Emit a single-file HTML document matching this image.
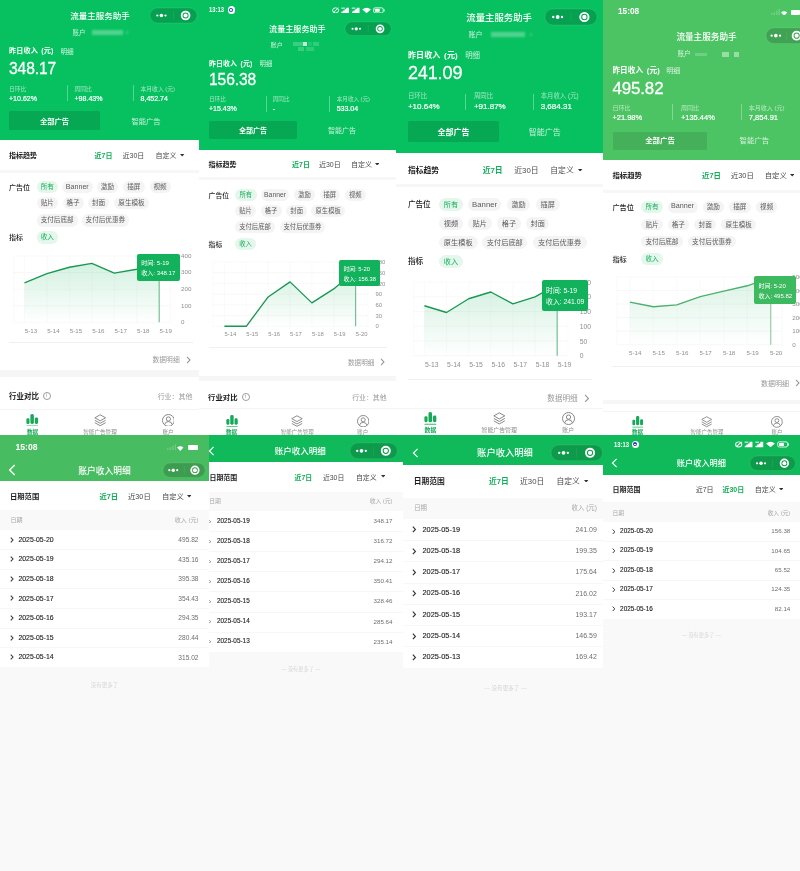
<!DOCTYPE html>
<html lang="zh-CN"><head><meta charset="utf-8"><title>流量主服务助手</title>
<style>
html,body{margin:0;padding:0}
body{width:800px;height:871px;position:relative;overflow:hidden;background:#f9f9f9;font-family:"Liberation Sans","Noto Sans CJK SC",sans-serif;-webkit-font-smoothing:antialiased}
.p{position:absolute;overflow:hidden;will-change:transform}
.p div,.p span,.p svg{position:absolute;white-space:nowrap;display:block}
</style></head><body>
<div class="p" style="left:0;top:0;width:800px;height:436px;clip-path:inset(0 601.00px 0 0.00px)">
<div style="left:0.00px;top:0.00px;width:199.00px;height:436.00px;background:#fff;"></div>
<div style="left:0.00px;top:0.00px;width:199.00px;height:140.00px;background:#07C160;"></div>
<span style="left:100.00px;transform:translateX(-50%);top:11.38px;font-size:8.5px;line-height:11.9px;color:#fff;font-weight:500;">流量主服务助手</span>
<svg style="left:148.50px;top:7.00px" width="49.00" height="17.00" viewBox="-1 -1 49.00 17.00"><rect x="0" y="0" width="47.00" height="15.00" rx="7.50" fill="rgba(0,0,0,.165)" stroke="rgba(255,255,255,.16)" stroke-width=".6"/><circle cx="7.32" cy="7.50" r="1.12" fill="#fff"/><circle cx="11.42" cy="7.50" r="1.78" fill="#fff"/><circle cx="15.52" cy="7.50" r="1.12" fill="#fff"/><rect x="23.25" y="3.30" width=".5" height="8.40" fill="rgba(255,255,255,.14)"/><circle cx="35.58" cy="7.50" r="3.90" fill="none" stroke="#fff" stroke-width="1.80"/><circle cx="35.58" cy="7.50" r="2.05" fill="#fff"/></svg>
<span style="left:72.50px;top:28.72px;font-size:6.4px;line-height:8.96px;color:rgba(255,255,255,.78);font-weight:400;">账户</span>
<div style="left:91.50px;top:30.30px;width:31.50px;height:4.60px;background:rgba(255,255,255,0.3);filter:blur(1.1px)"></div>
<div style="left:125.80px;top:31.30px;width:2.00px;height:2.80px;background:rgba(255,255,255,0.2);filter:blur(0.8px)"></div>
<span style="left:9.00px;top:46.81px;font-size:7.1px;line-height:9.94px;color:#fff;font-weight:700;word-spacing:1.4px;letter-spacing:.12px">昨日收入 (元)</span>
<span style="left:60.50px;top:47.11px;font-size:6.603px;line-height:9.24px;color:rgba(255,255,255,.8);font-weight:400;">明细</span>
<span style="left:9.00px;top:57.88px;font-size:15.6px;line-height:21.84px;color:#fff;font-weight:400;-webkit-text-stroke:.28px #fff;letter-spacing:-.1px">348.17</span>
<span style="left:9.00px;top:84.58px;font-size:5.8px;line-height:8.12px;color:rgba(255,255,255,.62);font-weight:400;">日环比</span>
<span style="left:9.00px;top:93.66px;font-size:7.05px;line-height:9.87px;color:#fff;font-weight:400;-webkit-text-stroke:.2px #fff">+10.62%</span>
<span style="left:74.50px;top:84.58px;font-size:5.8px;line-height:8.12px;color:rgba(255,255,255,.62);font-weight:400;">周同比</span>
<span style="left:74.50px;top:93.66px;font-size:7.05px;line-height:9.87px;color:#fff;font-weight:400;-webkit-text-stroke:.2px #fff">+98.43%</span>
<span style="left:140.50px;top:84.58px;font-size:5.8px;line-height:8.12px;color:rgba(255,255,255,.62);font-weight:400;">本月收入 (元)</span>
<span style="left:140.50px;top:93.66px;font-size:7.05px;line-height:9.87px;color:#fff;font-weight:400;-webkit-text-stroke:.2px #fff">8,452.74</span>
<div style="left:66.75px;top:85.00px;width:0.60px;height:15.50px;background:rgba(255,255,255,.32);"></div>
<div style="left:132.75px;top:85.00px;width:0.60px;height:15.50px;background:rgba(255,255,255,.32);"></div>
<div style="left:9.00px;top:111.00px;width:91.00px;height:19.00px;background:rgba(0,0,0,.13);border-radius:1.5px"></div>
<span style="left:54.50px;transform:translateX(-50%);top:116.69px;font-size:7.3px;line-height:10.22px;color:#fff;font-weight:700;">全部广告</span>
<span style="left:146.00px;transform:translateX(-50%);top:116.69px;font-size:7.3px;line-height:10.22px;color:rgba(255,255,255,.78);font-weight:400;">智能广告</span>
<span style="left:9.00px;top:151.37px;font-size:7px;line-height:9.8px;color:#1c1c1c;font-weight:700;">指标趋势</span>
<span style="left:94.50px;top:151.37px;font-size:7px;line-height:9.8px;color:#10ae57;font-weight:700;">近7日</span>
<span style="left:122.50px;top:151.37px;font-size:7px;line-height:9.8px;color:#4a4a4a;font-weight:400;">近30日</span>
<span style="left:155.50px;top:151.37px;font-size:7px;line-height:9.8px;color:#4a4a4a;font-weight:400;">自定义</span>
<svg style="left:180.30px;top:154.00px" width="4.40" height="2.60" viewBox="0 0 4.4 2.6"><polygon points="0,0 4.4,0 2.2,2.6" fill="#333"/></svg>
<div style="left:0.00px;top:169.60px;width:199.00px;height:3.40px;background:#f7f7f7;"></div>
<span style="left:9.00px;top:182.62px;font-size:7px;line-height:9.8px;color:#1c1c1c;font-weight:500;">广告位</span>
<span style="left:36.75px;top:180.55px;width:21.25px;height:12.40px;line-height:12.40px;border-radius:6.20px;background:#e5f7ec;color:#10ae57;font-size:6.6px;text-align:center">所有</span>
<span style="left:62.00px;top:180.55px;width:30.50px;height:12.40px;line-height:12.40px;border-radius:6.20px;background:#f4f4f4;color:#5a5a5a;font-size:7.13px;text-align:center">Banner</span>
<span style="left:97.00px;top:180.55px;width:21.00px;height:12.40px;line-height:12.40px;border-radius:6.20px;background:#f4f4f4;color:#5a5a5a;font-size:6.6px;text-align:center">激励</span>
<span style="left:123.00px;top:180.55px;width:21.50px;height:12.40px;line-height:12.40px;border-radius:6.20px;background:#f4f4f4;color:#5a5a5a;font-size:6.6px;text-align:center">插屏</span>
<span style="left:149.50px;top:180.55px;width:21.25px;height:12.40px;line-height:12.40px;border-radius:6.20px;background:#f4f4f4;color:#5a5a5a;font-size:6.6px;text-align:center">视频</span>
<span style="left:36.75px;top:196.80px;width:21.25px;height:12.40px;line-height:12.40px;border-radius:6.20px;background:#f4f4f4;color:#5a5a5a;font-size:6.6px;text-align:center">贴片</span>
<span style="left:62.50px;top:196.80px;width:21.25px;height:12.40px;line-height:12.40px;border-radius:6.20px;background:#f4f4f4;color:#5a5a5a;font-size:6.6px;text-align:center">格子</span>
<span style="left:88.00px;top:196.80px;width:21.00px;height:12.40px;line-height:12.40px;border-radius:6.20px;background:#f4f4f4;color:#5a5a5a;font-size:6.6px;text-align:center">封面</span>
<span style="left:114.00px;top:196.80px;width:35.00px;height:12.40px;line-height:12.40px;border-radius:6.20px;background:#f4f4f4;color:#5a5a5a;font-size:6.6px;text-align:center">原生模板</span>
<span style="left:36.75px;top:214.30px;width:40.75px;height:12.40px;line-height:12.40px;border-radius:6.20px;background:#f4f4f4;color:#5a5a5a;font-size:6.6px;text-align:center">支付后底部</span>
<span style="left:81.75px;top:214.30px;width:47.25px;height:12.40px;line-height:12.40px;border-radius:6.20px;background:#f4f4f4;color:#5a5a5a;font-size:6.6px;text-align:center">支付后优惠券</span>
<span style="left:9.00px;top:233.37px;font-size:7px;line-height:9.8px;color:#1c1c1c;font-weight:500;">指标</span>
<span style="left:36.75px;top:231.30px;width:21.25px;height:12.40px;line-height:12.40px;border-radius:6.20px;background:#e5f7ec;color:#10ae57;font-size:6.6px;text-align:center">收入</span>
<svg style="left:0.00px;top:248.25px" width="199.00" height="82.25" viewBox="0.00 248.25 199.00 82.25"><defs><linearGradient id="gp1" x1="0" y1="0" x2="0" y2="1"><stop offset="0" stop-color="#25b866" stop-opacity="0.2"/><stop offset="1" stop-color="#25b866" stop-opacity="0"/></linearGradient></defs><line x1="13.75" y1="322.50" x2="170.60" y2="322.50" stroke="#f1f1f1" stroke-width=".5"/><line x1="13.75" y1="305.94" x2="170.60" y2="305.94" stroke="#f1f1f1" stroke-width=".5"/><line x1="13.75" y1="289.38" x2="170.60" y2="289.38" stroke="#f1f1f1" stroke-width=".5"/><line x1="13.75" y1="272.81" x2="170.60" y2="272.81" stroke="#f1f1f1" stroke-width=".5"/><line x1="13.75" y1="256.25" x2="170.60" y2="256.25" stroke="#f1f1f1" stroke-width=".5"/><line x1="13.75" y1="256.25" x2="13.75" y2="322.50" stroke="#f4f4f4" stroke-width=".5"/><line x1="24.50" y1="256.25" x2="24.50" y2="322.50" stroke="#f4f4f4" stroke-width=".5"/><line x1="46.95" y1="256.25" x2="46.95" y2="322.50" stroke="#f4f4f4" stroke-width=".5"/><line x1="69.40" y1="256.25" x2="69.40" y2="322.50" stroke="#f4f4f4" stroke-width=".5"/><line x1="91.85" y1="256.25" x2="91.85" y2="322.50" stroke="#f4f4f4" stroke-width=".5"/><line x1="114.30" y1="256.25" x2="114.30" y2="322.50" stroke="#f4f4f4" stroke-width=".5"/><line x1="136.75" y1="256.25" x2="136.75" y2="322.50" stroke="#f4f4f4" stroke-width=".5"/><line x1="159.20" y1="256.25" x2="159.20" y2="322.50" stroke="#f4f4f4" stroke-width=".5"/><line x1="170.60" y1="256.25" x2="170.60" y2="322.50" stroke="#f4f4f4" stroke-width=".5"/><polygon points="24.50,322.50 24.50,283.08 46.95,273.81 69.40,267.51 91.85,263.70 114.30,273.31 136.75,269.50 159.20,264.83 159.20,322.50" fill="url(#gp1)"/><polyline points="24.50,283.08 46.95,273.81 69.40,267.51 91.85,263.70 114.30,273.31 136.75,269.50 159.20,264.83" fill="none" stroke="#189852" stroke-width="1.35" stroke-linejoin="round"/><line x1="159.20" y1="264.83" x2="159.20" y2="322.50" stroke="#189852" stroke-opacity=".6" stroke-width="1.15"/></svg>
<span style="left:181.00px;top:318.16px;font-size:6.2px;line-height:8.68px;color:#8f8f8f;font-weight:400;">0</span>
<span style="left:181.00px;top:301.60px;font-size:6.2px;line-height:8.68px;color:#8f8f8f;font-weight:400;">100</span>
<span style="left:181.00px;top:285.04px;font-size:6.2px;line-height:8.68px;color:#8f8f8f;font-weight:400;">200</span>
<span style="left:181.00px;top:268.47px;font-size:6.2px;line-height:8.68px;color:#8f8f8f;font-weight:400;">300</span>
<span style="left:181.00px;top:251.91px;font-size:6.2px;line-height:8.68px;color:#8f8f8f;font-weight:400;">400</span>
<span style="left:31.00px;transform:translateX(-50%);top:326.96px;font-size:6.2px;line-height:8.68px;color:#8f8f8f;font-weight:400;">5-13</span>
<span style="left:53.45px;transform:translateX(-50%);top:326.96px;font-size:6.2px;line-height:8.68px;color:#8f8f8f;font-weight:400;">5-14</span>
<span style="left:75.90px;transform:translateX(-50%);top:326.96px;font-size:6.2px;line-height:8.68px;color:#8f8f8f;font-weight:400;">5-15</span>
<span style="left:98.35px;transform:translateX(-50%);top:326.96px;font-size:6.2px;line-height:8.68px;color:#8f8f8f;font-weight:400;">5-16</span>
<span style="left:120.80px;transform:translateX(-50%);top:326.96px;font-size:6.2px;line-height:8.68px;color:#8f8f8f;font-weight:400;">5-17</span>
<span style="left:143.25px;transform:translateX(-50%);top:326.96px;font-size:6.2px;line-height:8.68px;color:#8f8f8f;font-weight:400;">5-18</span>
<span style="left:165.70px;transform:translateX(-50%);top:326.96px;font-size:6.2px;line-height:8.68px;color:#8f8f8f;font-weight:400;">5-19</span>
<div style="left:137.00px;top:253.75px;width:42.50px;height:27.25px;background:#12b15b;border-radius:2px"></div>
<span style="left:141.20px;top:259.28px;font-size:6.1px;line-height:8.54px;color:#fff;font-weight:400;">时间: 5-19</span>
<span style="left:141.20px;top:268.95px;font-size:6.1px;line-height:8.54px;color:#fff;font-weight:400;">收入: 348.17</span>
<div style="left:8.75px;top:342.20px;width:183.75px;height:0.60px;background:#f0f0f0;"></div>
<span style="left:152.50px;top:355.49px;font-size:6.8px;line-height:9.52px;color:#9a9a9a;font-weight:400;">数据明细</span>
<svg style="left:185.50px;top:355.50px" width="5.00" height="8.00" viewBox="0 0 5 8"><polyline points="1,0.8 4,4 1,7.2" fill="none" stroke="#9a9a9a" stroke-width="1.1"/></svg>
<div style="left:0.00px;top:370.00px;width:199.00px;height:6.50px;background:#f6f6f6;"></div>
<span style="left:9.00px;top:391.77px;font-size:7.5px;line-height:10.5px;color:#1c1c1c;font-weight:700;">行业对比</span>
<div style="left:42.77px;top:392.22px;width:7.95px;height:7.95px;border-radius:50%;border:.6px solid #9a9a9a;box-sizing:border-box"></div>
<span style="left:46.75px;transform:translateX(-50%);top:392.94px;font-size:4.65px;line-height:6.51px;color:#8a8a8a;font-weight:400;">i</span>
<span style="left:192.50px;transform:translateX(-100%);top:392.08px;font-size:6.9750000000000005px;line-height:9.77px;color:#9a9a9a;font-weight:400;">行业：其他</span>
<div style="left:0.00px;top:410.00px;width:199.00px;height:26.00px;background:#fff;box-shadow:0 -0.5px 0 rgba(0,0,0,.09)"></div>
<svg style="left:26.30px;top:413.60px" width="12.40" height="12.80" viewBox="0 0 12.4 12.8" fill="#16a957"><rect x="0.4" y="4.2" width="3.1" height="5.8" rx="1.3"/><rect x="4.4" y="0.1" width="3.5" height="9.9" rx="1.5"/><rect x="8.8" y="3.4" width="3.3" height="6.6" rx="1.4"/><rect x="0.4" y="11.6" width="11.7" height="1" rx=".4" opacity=".85"/></svg>
<svg style="left:93.80px;top:413.80px" width="12.40" height="12.40" viewBox="0 0 12.4 12.4" fill="none" stroke="#7d7d7d" stroke-width=".9" stroke-linejoin="round"><path d="M6.2 .8 L11.6 3.8 L6.2 6.8 L.8 3.8 Z"/><path d="M.8 6.3 L6.2 9.3 L11.6 6.3"/><path d="M.8 8.7 L6.2 11.7 L11.6 8.7"/></svg>
<svg style="left:161.60px;top:413.60px" width="12.80" height="12.80" viewBox="0 0 12.8 12.8" fill="none" stroke="#7d7d7d" stroke-width=".9"><circle cx="6.4" cy="6.4" r="5.9"/><circle cx="6.4" cy="5" r="2.1"/><path d="M2.6 10.6 Q3.2 7.6 6.4 7.6 Q9.6 7.6 10.2 10.6"/></svg>
<span style="left:32.50px;transform:translateX(-50%);top:428.50px;font-size:5.6px;line-height:7.84px;color:#16a957;font-weight:700;">数据</span>
<span style="left:100.00px;transform:translateX(-50%);top:428.50px;font-size:5.6px;line-height:7.84px;color:#8e8e8e;font-weight:400;">智能广告管理</span>
<span style="left:168.00px;transform:translateX(-50%);top:428.50px;font-size:5.6px;line-height:7.84px;color:#8e8e8e;font-weight:400;">账户</span>
</div>
<div class="p" style="left:0;top:0;width:800px;height:436px;clip-path:inset(0 404.00px 0 199.00px)">
<div style="left:199.00px;top:0.00px;width:197.00px;height:436.00px;background:#fff;"></div>
<div style="left:199.00px;top:0.00px;width:197.00px;height:150.00px;background:#07C160;"></div>
<span style="left:209.40px;top:5.46px;font-size:6.496px;line-height:9.09px;color:#fff;font-weight:700;transform:scaleX(.9);transform-origin:0 50%">13:13</span>
<div style="left:227.51px;top:6.40px;width:7.19px;height:7.19px;border-radius:50%;background:#fff"></div>
<div style="left:229.02px;top:7.91px;width:4.17px;height:4.17px;background:#2b3fae;border-radius:50%"></div>
<div style="left:230.39px;top:9.28px;width:1.44px;height:1.44px;background:#fff;border-radius:50%"></div>
<svg style="left:331.50px;top:6.70px" width="53.00" height="6.70" viewBox="0 0 53 8" preserveAspectRatio="none" fill="#fff"><circle cx="3.6" cy="4" r="3" fill="none" stroke="#fff" stroke-width="1"/><path d="M1 7 L6.4 1" stroke="#fff" stroke-width="1"/><path d="M9.5 7.3 L9.5 5.4 L11 5.4 L11 4.2 L12.6 4.2 L12.6 2.8 L14.2 2.8 L14.2 1 L17 1 L17 7.3 Z"/><rect x="9.3" y=".8" width="3.6" height="1.1"/><path d="M20 7.3 L20 5.4 L21.5 5.4 L21.5 4.2 L23.1 4.2 L23.1 2.8 L24.7 2.8 L24.7 1 L27.5 1 L27.5 7.3 Z"/><rect x="19.8" y=".8" width="3.6" height="1.1"/><path d="M30.3 2.9 Q34.6 -.9 38.9 2.9 L34.6 7.4 Z"/><rect x="41.6" y="1" width="9.6" height="6" rx="1.6" fill="none" stroke="#fff" stroke-width=".9"/><rect x="42.9" y="2.2" width="4.8" height="3.6" rx=".6"/><rect x="51.6" y="2.7" width="1" height="2.6" rx=".4"/></svg>
<span style="left:297.40px;transform:translateX(-50%);top:23.52px;font-size:8.1px;line-height:11.34px;color:#fff;font-weight:500;">流量主服务助手</span>
<svg style="left:344.00px;top:20.80px" width="48.30" height="15.60" viewBox="-1 -1 48.30 15.60"><rect x="0" y="0" width="46.30" height="13.60" rx="6.80" fill="rgba(0,0,0,.165)" stroke="rgba(255,255,255,.16)" stroke-width=".6"/><circle cx="7.53" cy="6.80" r="1.02" fill="#fff"/><circle cx="11.25" cy="6.80" r="1.61" fill="#fff"/><circle cx="14.97" cy="6.80" r="1.02" fill="#fff"/><rect x="22.90" y="2.99" width=".5" height="7.62" fill="rgba(255,255,255,.14)"/><circle cx="35.05" cy="6.80" r="3.54" fill="none" stroke="#fff" stroke-width="1.63"/><circle cx="35.05" cy="6.80" r="1.86" fill="#fff"/></svg>
<span style="left:270.60px;top:40.94px;font-size:6.2px;line-height:8.68px;color:rgba(255,255,255,.78);font-weight:400;">账户</span>
<div style="left:293.00px;top:42.20px;width:9.50px;height:4.30px;background:rgba(255,255,255,0.2);filter:blur(0.4px)"></div>
<div style="left:302.60px;top:42.20px;width:4.80px;height:4.30px;background:rgba(255,255,255,0.72);filter:blur(0.3px)"></div>
<div style="left:308.00px;top:42.20px;width:4.00px;height:4.30px;background:rgba(255,255,255,0.1);filter:blur(0.4px)"></div>
<div style="left:312.50px;top:42.20px;width:6.00px;height:4.30px;background:rgba(255,255,255,0.18);filter:blur(0.4px)"></div>
<div style="left:297.50px;top:47.00px;width:6.50px;height:4.20px;background:rgba(255,255,255,0.2);filter:blur(0.4px)"></div>
<div style="left:306.00px;top:47.00px;width:7.50px;height:4.20px;background:rgba(255,255,255,0.16);filter:blur(0.4px)"></div>
<span style="left:209.00px;top:59.23px;font-size:6.9px;line-height:9.66px;color:#fff;font-weight:700;word-spacing:1.4px;letter-spacing:.12px">昨日收入 (元)</span>
<span style="left:259.60px;top:59.52px;font-size:6.417000000000001px;line-height:8.98px;color:rgba(255,255,255,.8);font-weight:400;">明细</span>
<span style="left:209.00px;top:68.68px;font-size:15.6px;line-height:21.84px;color:#fff;font-weight:400;-webkit-text-stroke:.28px #fff;letter-spacing:-.1px">156.38</span>
<span style="left:209.00px;top:95.90px;font-size:5.6px;line-height:7.84px;color:rgba(255,255,255,.62);font-weight:400;">日环比</span>
<span style="left:209.00px;top:103.70px;font-size:7px;line-height:9.8px;color:#fff;font-weight:400;-webkit-text-stroke:.2px #fff">+15.43%</span>
<span style="left:272.70px;top:95.90px;font-size:5.6px;line-height:7.84px;color:rgba(255,255,255,.62);font-weight:400;">周同比</span>
<span style="left:272.70px;top:103.70px;font-size:7px;line-height:9.8px;color:#fff;font-weight:400;-webkit-text-stroke:.2px #fff">-</span>
<span style="left:336.70px;top:95.90px;font-size:5.6px;line-height:7.84px;color:rgba(255,255,255,.62);font-weight:400;">本月收入 (元)</span>
<span style="left:336.70px;top:103.70px;font-size:7px;line-height:9.8px;color:#fff;font-weight:400;-webkit-text-stroke:.2px #fff">533.04</span>
<div style="left:265.65px;top:96.00px;width:0.60px;height:15.50px;background:rgba(255,255,255,.32);"></div>
<div style="left:329.35px;top:96.00px;width:0.60px;height:15.50px;background:rgba(255,255,255,.32);"></div>
<div style="left:209.00px;top:121.30px;width:87.80px;height:17.70px;background:rgba(0,0,0,.13);border-radius:1.5px"></div>
<span style="left:252.90px;transform:translateX(-50%);top:126.27px;font-size:7px;line-height:9.8px;color:#fff;font-weight:700;">全部广告</span>
<span style="left:342.00px;transform:translateX(-50%);top:126.27px;font-size:7px;line-height:9.8px;color:rgba(255,255,255,.78);font-weight:400;">智能广告</span>
<span style="left:208.60px;top:160.27px;font-size:7px;line-height:9.8px;color:#1c1c1c;font-weight:700;">指标趋势</span>
<span style="left:292.00px;top:160.27px;font-size:7px;line-height:9.8px;color:#10ae57;font-weight:700;">近7日</span>
<span style="left:318.90px;top:160.27px;font-size:7px;line-height:9.8px;color:#4a4a4a;font-weight:400;">近30日</span>
<span style="left:351.00px;top:160.27px;font-size:7px;line-height:9.8px;color:#4a4a4a;font-weight:400;">自定义</span>
<svg style="left:374.80px;top:162.90px" width="4.40" height="2.60" viewBox="0 0 4.4 2.6"><polygon points="0,0 4.4,0 2.2,2.6" fill="#333"/></svg>
<div style="left:199.00px;top:177.00px;width:197.00px;height:2.50px;background:#f7f7f7;"></div>
<span style="left:208.60px;top:190.59px;font-size:6.8px;line-height:9.52px;color:#1c1c1c;font-weight:500;">广告位</span>
<span style="left:235.00px;top:188.60px;width:21.70px;height:12.00px;line-height:12.00px;border-radius:6.00px;background:#e5f7ec;color:#10ae57;font-size:6.3px;text-align:center">所有</span>
<span style="left:260.60px;top:188.60px;width:28.90px;height:12.00px;line-height:12.00px;border-radius:6.00px;background:#f4f4f4;color:#5a5a5a;font-size:6.8px;text-align:center">Banner</span>
<span style="left:294.00px;top:188.60px;width:21.00px;height:12.00px;line-height:12.00px;border-radius:6.00px;background:#f4f4f4;color:#5a5a5a;font-size:6.3px;text-align:center">激励</span>
<span style="left:319.70px;top:188.60px;width:20.30px;height:12.00px;line-height:12.00px;border-radius:6.00px;background:#f4f4f4;color:#5a5a5a;font-size:6.3px;text-align:center">插屏</span>
<span style="left:345.00px;top:188.60px;width:20.60px;height:12.00px;line-height:12.00px;border-radius:6.00px;background:#f4f4f4;color:#5a5a5a;font-size:6.3px;text-align:center">视频</span>
<span style="left:235.00px;top:204.90px;width:21.00px;height:12.00px;line-height:12.00px;border-radius:6.00px;background:#f4f4f4;color:#5a5a5a;font-size:6.3px;text-align:center">贴片</span>
<span style="left:260.60px;top:204.90px;width:21.00px;height:12.00px;line-height:12.00px;border-radius:6.00px;background:#f4f4f4;color:#5a5a5a;font-size:6.3px;text-align:center">格子</span>
<span style="left:286.30px;top:204.90px;width:20.70px;height:12.00px;line-height:12.00px;border-radius:6.00px;background:#f4f4f4;color:#5a5a5a;font-size:6.3px;text-align:center">封面</span>
<span style="left:311.30px;top:204.90px;width:33.70px;height:12.00px;line-height:12.00px;border-radius:6.00px;background:#f4f4f4;color:#5a5a5a;font-size:6.3px;text-align:center">原生模板</span>
<span style="left:235.00px;top:221.10px;width:40.00px;height:12.00px;line-height:12.00px;border-radius:6.00px;background:#f4f4f4;color:#5a5a5a;font-size:6.3px;text-align:center">支付后底部</span>
<span style="left:279.50px;top:221.10px;width:45.90px;height:12.00px;line-height:12.00px;border-radius:6.00px;background:#f4f4f4;color:#5a5a5a;font-size:6.3px;text-align:center">支付后优惠券</span>
<span style="left:208.60px;top:239.99px;font-size:6.8px;line-height:9.52px;color:#1c1c1c;font-weight:500;">指标</span>
<span style="left:235.00px;top:238.00px;width:21.00px;height:12.00px;line-height:12.00px;border-radius:6.00px;background:#e5f7ec;color:#10ae57;font-size:6.3px;text-align:center">收入</span>
<svg style="left:199.00px;top:254.30px" width="197.00" height="80.30" viewBox="199.00 254.30 197.00 80.30"><defs><linearGradient id="gp2" x1="0" y1="0" x2="0" y2="1"><stop offset="0" stop-color="#25b866" stop-opacity="0.2"/><stop offset="1" stop-color="#25b866" stop-opacity="0"/></linearGradient></defs><line x1="212.80" y1="326.60" x2="368.00" y2="326.60" stroke="#f1f1f1" stroke-width=".5"/><line x1="212.80" y1="315.88" x2="368.00" y2="315.88" stroke="#f1f1f1" stroke-width=".5"/><line x1="212.80" y1="305.17" x2="368.00" y2="305.17" stroke="#f1f1f1" stroke-width=".5"/><line x1="212.80" y1="294.45" x2="368.00" y2="294.45" stroke="#f1f1f1" stroke-width=".5"/><line x1="212.80" y1="283.73" x2="368.00" y2="283.73" stroke="#f1f1f1" stroke-width=".5"/><line x1="212.80" y1="273.02" x2="368.00" y2="273.02" stroke="#f1f1f1" stroke-width=".5"/><line x1="212.80" y1="262.30" x2="368.00" y2="262.30" stroke="#f1f1f1" stroke-width=".5"/><line x1="212.80" y1="262.30" x2="212.80" y2="326.60" stroke="#f4f4f4" stroke-width=".5"/><line x1="224.40" y1="262.30" x2="224.40" y2="326.60" stroke="#f4f4f4" stroke-width=".5"/><line x1="246.27" y1="262.30" x2="246.27" y2="326.60" stroke="#f4f4f4" stroke-width=".5"/><line x1="268.14" y1="262.30" x2="268.14" y2="326.60" stroke="#f4f4f4" stroke-width=".5"/><line x1="290.01" y1="262.30" x2="290.01" y2="326.60" stroke="#f4f4f4" stroke-width=".5"/><line x1="311.88" y1="262.30" x2="311.88" y2="326.60" stroke="#f4f4f4" stroke-width=".5"/><line x1="333.75" y1="262.30" x2="333.75" y2="326.60" stroke="#f4f4f4" stroke-width=".5"/><line x1="355.62" y1="262.30" x2="355.62" y2="326.60" stroke="#f4f4f4" stroke-width=".5"/><line x1="368.00" y1="262.30" x2="368.00" y2="326.60" stroke="#f4f4f4" stroke-width=".5"/><polygon points="224.40,326.60 224.40,326.60 246.27,326.60 268.14,297.26 290.01,282.18 311.88,303.19 333.75,289.22 355.62,270.74 355.62,326.60" fill="url(#gp2)"/><polyline points="224.40,326.60 246.27,326.60 268.14,297.26 290.01,282.18 311.88,303.19 333.75,289.22 355.62,270.74" fill="none" stroke="#189852" stroke-width="1.35" stroke-linejoin="round"/><line x1="355.62" y1="270.74" x2="355.62" y2="326.60" stroke="#189852" stroke-opacity=".6" stroke-width="1.15"/></svg>
<span style="left:375.50px;top:322.47px;font-size:5.9px;line-height:8.26px;color:#8f8f8f;font-weight:400;">0</span>
<span style="left:375.50px;top:311.75px;font-size:5.9px;line-height:8.26px;color:#8f8f8f;font-weight:400;">30</span>
<span style="left:375.50px;top:301.04px;font-size:5.9px;line-height:8.26px;color:#8f8f8f;font-weight:400;">60</span>
<span style="left:375.50px;top:290.32px;font-size:5.9px;line-height:8.26px;color:#8f8f8f;font-weight:400;">90</span>
<span style="left:375.50px;top:279.60px;font-size:5.9px;line-height:8.26px;color:#8f8f8f;font-weight:400;">120</span>
<span style="left:375.50px;top:268.89px;font-size:5.9px;line-height:8.26px;color:#8f8f8f;font-weight:400;">150</span>
<span style="left:375.50px;top:258.17px;font-size:5.9px;line-height:8.26px;color:#8f8f8f;font-weight:400;">180</span>
<span style="left:230.40px;transform:translateX(-50%);top:329.87px;font-size:5.9px;line-height:8.26px;color:#8f8f8f;font-weight:400;">5-14</span>
<span style="left:252.27px;transform:translateX(-50%);top:329.87px;font-size:5.9px;line-height:8.26px;color:#8f8f8f;font-weight:400;">5-15</span>
<span style="left:274.14px;transform:translateX(-50%);top:329.87px;font-size:5.9px;line-height:8.26px;color:#8f8f8f;font-weight:400;">5-16</span>
<span style="left:296.01px;transform:translateX(-50%);top:329.87px;font-size:5.9px;line-height:8.26px;color:#8f8f8f;font-weight:400;">5-17</span>
<span style="left:317.88px;transform:translateX(-50%);top:329.87px;font-size:5.9px;line-height:8.26px;color:#8f8f8f;font-weight:400;">5-18</span>
<span style="left:339.75px;transform:translateX(-50%);top:329.87px;font-size:5.9px;line-height:8.26px;color:#8f8f8f;font-weight:400;">5-19</span>
<span style="left:361.62px;transform:translateX(-50%);top:329.87px;font-size:5.9px;line-height:8.26px;color:#8f8f8f;font-weight:400;">5-20</span>
<div style="left:339.30px;top:259.80px;width:40.90px;height:26.50px;background:#12b15b;border-radius:2px"></div>
<span style="left:343.50px;top:265.26px;font-size:5.8px;line-height:8.12px;color:#fff;font-weight:400;">时间: 5-20</span>
<span style="left:343.50px;top:274.66px;font-size:5.8px;line-height:8.12px;color:#fff;font-weight:400;">收入: 156.38</span>
<div style="left:208.60px;top:346.70px;width:178.00px;height:0.60px;background:#f0f0f0;"></div>
<span style="left:348.00px;top:358.41px;font-size:6.6px;line-height:9.24px;color:#9a9a9a;font-weight:400;">数据明细</span>
<svg style="left:379.50px;top:358.30px" width="5.00" height="8.00" viewBox="0 0 5 8"><polyline points="1,0.8 4,4 1,7.2" fill="none" stroke="#9a9a9a" stroke-width="1.1"/></svg>
<div style="left:199.00px;top:376.00px;width:197.00px;height:5.00px;background:#f6f6f6;"></div>
<span style="left:208.00px;top:392.63px;font-size:7.4px;line-height:10.36px;color:#1c1c1c;font-weight:700;">行业对比</span>
<div style="left:241.78px;top:393.08px;width:7.84px;height:7.84px;border-radius:50%;border:.6px solid #9a9a9a;box-sizing:border-box"></div>
<span style="left:245.70px;transform:translateX(-50%);top:393.79px;font-size:4.588px;line-height:6.42px;color:#8a8a8a;font-weight:400;">i</span>
<span style="left:386.60px;transform:translateX(-100%);top:392.94px;font-size:6.882000000000001px;line-height:9.63px;color:#9a9a9a;font-weight:400;">行业：其他</span>
<div style="left:199.00px;top:409.00px;width:197.00px;height:27.00px;background:#fff;box-shadow:0 -0.5px 0 rgba(0,0,0,.09)"></div>
<svg style="left:225.59px;top:415.09px" width="12.03" height="12.42" viewBox="0 0 12.4 12.8" fill="#16a957"><rect x="0.4" y="4.2" width="3.1" height="5.8" rx="1.3"/><rect x="4.4" y="0.1" width="3.5" height="9.9" rx="1.5"/><rect x="8.8" y="3.4" width="3.3" height="6.6" rx="1.4"/><rect x="0.4" y="11.6" width="11.7" height="1" rx=".4" opacity=".85"/></svg>
<svg style="left:291.29px;top:415.29px" width="12.03" height="12.03" viewBox="0 0 12.4 12.4" fill="none" stroke="#7d7d7d" stroke-width=".9" stroke-linejoin="round"><path d="M6.2 .8 L11.6 3.8 L6.2 6.8 L.8 3.8 Z"/><path d="M.8 6.3 L6.2 9.3 L11.6 6.3"/><path d="M.8 8.7 L6.2 11.7 L11.6 8.7"/></svg>
<svg style="left:356.59px;top:415.09px" width="12.42" height="12.42" viewBox="0 0 12.8 12.8" fill="none" stroke="#7d7d7d" stroke-width=".9"><circle cx="6.4" cy="6.4" r="5.9"/><circle cx="6.4" cy="5" r="2.1"/><path d="M2.6 10.6 Q3.2 7.6 6.4 7.6 Q9.6 7.6 10.2 10.6"/></svg>
<span style="left:231.60px;transform:translateX(-50%);top:428.95px;font-size:5.5px;line-height:7.7px;color:#16a957;font-weight:700;">数据</span>
<span style="left:297.30px;transform:translateX(-50%);top:428.95px;font-size:5.5px;line-height:7.7px;color:#8e8e8e;font-weight:400;">智能广告管理</span>
<span style="left:362.80px;transform:translateX(-50%);top:428.95px;font-size:5.5px;line-height:7.7px;color:#8e8e8e;font-weight:400;">账户</span>
</div>
<div class="p" style="left:0;top:0;width:800px;height:436px;clip-path:inset(0 197.00px 0 396.00px)">
<div style="left:396.00px;top:0.00px;width:207.00px;height:436.00px;background:#fff;"></div>
<div style="left:396.00px;top:0.00px;width:207.00px;height:152.50px;background:#07C160;"></div>
<span style="left:499.20px;transform:translateX(-50%);top:11.45px;font-size:9.4px;line-height:13.16px;color:#fff;font-weight:500;">流量主服务助手</span>
<svg style="left:543.80px;top:7.80px" width="54.00" height="18.00" viewBox="-1 -1 54.00 18.00"><rect x="0" y="0" width="52.00" height="16.00" rx="8.00" fill="rgba(0,0,0,.165)" stroke="rgba(255,255,255,.16)" stroke-width=".6"/><circle cx="8.26" cy="8.00" r="1.19" fill="#fff"/><circle cx="12.64" cy="8.00" r="1.90" fill="#fff"/><circle cx="17.01" cy="8.00" r="1.19" fill="#fff"/><rect x="25.75" y="3.52" width=".5" height="8.96" fill="rgba(255,255,255,.14)"/><circle cx="39.36" cy="8.00" r="4.16" fill="none" stroke="#fff" stroke-width="1.92"/><circle cx="39.36" cy="8.00" r="2.19" fill="#fff"/></svg>
<span style="left:468.40px;top:30.27px;font-size:7px;line-height:9.8px;color:rgba(255,255,255,.78);font-weight:400;">账户</span>
<div style="left:490.80px;top:32.00px;width:34.00px;height:4.80px;background:rgba(255,255,255,0.3);filter:blur(1.2px)"></div>
<div style="left:529.50px;top:33.00px;width:2.40px;height:3.00px;background:rgba(255,255,255,0.2);filter:blur(0.8px)"></div>
<span style="left:407.90px;top:50.28px;font-size:8px;line-height:11.2px;color:#fff;font-weight:700;word-spacing:1.4px;letter-spacing:.12px">昨日收入 (元)</span>
<span style="left:465.20px;top:50.61px;font-size:7.44px;line-height:10.42px;color:rgba(255,255,255,.8);font-weight:400;">明细</span>
<span style="left:407.90px;top:61.00px;font-size:18px;line-height:25.2px;color:#fff;font-weight:400;-webkit-text-stroke:.28px #fff;letter-spacing:-.1px">241.09</span>
<span style="left:407.90px;top:91.92px;font-size:6.4px;line-height:8.96px;color:rgba(255,255,255,.62);font-weight:400;">日环比</span>
<span style="left:407.90px;top:101.10px;font-size:8px;line-height:11.2px;color:#fff;font-weight:400;-webkit-text-stroke:.2px #fff">+10.64%</span>
<span style="left:473.90px;top:91.92px;font-size:6.4px;line-height:8.96px;color:rgba(255,255,255,.62);font-weight:400;">周同比</span>
<span style="left:473.90px;top:101.10px;font-size:8px;line-height:11.2px;color:#fff;font-weight:400;-webkit-text-stroke:.2px #fff">+91.87%</span>
<span style="left:540.70px;top:91.92px;font-size:6.4px;line-height:8.96px;color:rgba(255,255,255,.62);font-weight:400;">本月收入 (元)</span>
<span style="left:540.70px;top:101.10px;font-size:8px;line-height:11.2px;color:#fff;font-weight:400;-webkit-text-stroke:.2px #fff">3,684.31</span>
<div style="left:465.35px;top:93.50px;width:0.60px;height:16.50px;background:rgba(255,255,255,.32);"></div>
<div style="left:532.75px;top:93.50px;width:0.60px;height:16.50px;background:rgba(255,255,255,.32);"></div>
<div style="left:407.90px;top:121.00px;width:91.30px;height:20.60px;background:rgba(0,0,0,.13);border-radius:1.5px"></div>
<span style="left:453.55px;transform:translateX(-50%);top:126.78px;font-size:8px;line-height:11.2px;color:#fff;font-weight:700;">全部广告</span>
<span style="left:544.80px;transform:translateX(-50%);top:126.78px;font-size:8px;line-height:11.2px;color:rgba(255,255,255,.78);font-weight:400;">智能广告</span>
<span style="left:407.90px;top:165.60px;font-size:7.8px;line-height:10.92px;color:#1c1c1c;font-weight:700;">指标趋势</span>
<span style="left:482.70px;top:165.60px;font-size:7.8px;line-height:10.92px;color:#10ae57;font-weight:700;">近7日</span>
<span style="left:514.30px;top:165.60px;font-size:7.8px;line-height:10.92px;color:#4a4a4a;font-weight:400;">近30日</span>
<span style="left:550.30px;top:165.60px;font-size:7.8px;line-height:10.92px;color:#4a4a4a;font-weight:400;">自定义</span>
<svg style="left:578.40px;top:168.70px" width="4.40" height="2.60" viewBox="0 0 4.4 2.6"><polygon points="0,0 4.4,0 2.2,2.6" fill="#333"/></svg>
<div style="left:396.00px;top:184.30px;width:207.00px;height:3.00px;background:#f7f7f7;"></div>
<span style="left:407.90px;top:199.62px;font-size:7.6px;line-height:10.64px;color:#1c1c1c;font-weight:500;">广告位</span>
<span style="left:439.00px;top:197.60px;width:23.90px;height:13.00px;line-height:13.00px;border-radius:6.50px;background:#e5f7ec;color:#10ae57;font-size:7.2px;text-align:center">所有</span>
<span style="left:467.80px;top:197.60px;width:33.60px;height:13.00px;line-height:13.00px;border-radius:6.50px;background:#f4f4f4;color:#5a5a5a;font-size:7.78px;text-align:center">Banner</span>
<span style="left:506.90px;top:197.60px;width:23.40px;height:13.00px;line-height:13.00px;border-radius:6.50px;background:#f4f4f4;color:#5a5a5a;font-size:7.2px;text-align:center">激励</span>
<span style="left:535.80px;top:197.60px;width:23.90px;height:13.00px;line-height:13.00px;border-radius:6.50px;background:#f4f4f4;color:#5a5a5a;font-size:7.2px;text-align:center">插屏</span>
<span style="left:439.00px;top:216.90px;width:23.90px;height:13.00px;line-height:13.00px;border-radius:6.50px;background:#f4f4f4;color:#5a5a5a;font-size:7.2px;text-align:center">视频</span>
<span style="left:467.80px;top:216.90px;width:24.00px;height:13.00px;line-height:13.00px;border-radius:6.50px;background:#f4f4f4;color:#5a5a5a;font-size:7.2px;text-align:center">贴片</span>
<span style="left:497.30px;top:216.90px;width:23.30px;height:13.00px;line-height:13.00px;border-radius:6.50px;background:#f4f4f4;color:#5a5a5a;font-size:7.2px;text-align:center">格子</span>
<span style="left:526.10px;top:216.90px;width:23.40px;height:13.00px;line-height:13.00px;border-radius:6.50px;background:#f4f4f4;color:#5a5a5a;font-size:7.2px;text-align:center">封面</span>
<span style="left:439.00px;top:235.60px;width:38.50px;height:13.00px;line-height:13.00px;border-radius:6.50px;background:#f4f4f4;color:#5a5a5a;font-size:7.2px;text-align:center">原生模板</span>
<span style="left:482.10px;top:235.60px;width:45.40px;height:13.00px;line-height:13.00px;border-radius:6.50px;background:#f4f4f4;color:#5a5a5a;font-size:7.2px;text-align:center">支付后底部</span>
<span style="left:532.50px;top:235.60px;width:54.10px;height:13.00px;line-height:13.00px;border-radius:6.50px;background:#f4f4f4;color:#5a5a5a;font-size:7.2px;text-align:center">支付后优惠券</span>
<span style="left:407.90px;top:256.52px;font-size:7.6px;line-height:10.64px;color:#1c1c1c;font-weight:500;">指标</span>
<span style="left:439.00px;top:254.50px;width:23.90px;height:13.00px;line-height:13.00px;border-radius:6.50px;background:#e5f7ec;color:#10ae57;font-size:7.2px;text-align:center">收入</span>
<svg style="left:396.00px;top:274.40px" width="207.00" height="89.70" viewBox="396.00 274.40 207.00 89.70"><defs><linearGradient id="gp3" x1="0" y1="0" x2="0" y2="1"><stop offset="0" stop-color="#25b866" stop-opacity="0.2"/><stop offset="1" stop-color="#25b866" stop-opacity="0"/></linearGradient></defs><line x1="413.40" y1="356.10" x2="568.00" y2="356.10" stroke="#f1f1f1" stroke-width=".5"/><line x1="413.40" y1="341.36" x2="568.00" y2="341.36" stroke="#f1f1f1" stroke-width=".5"/><line x1="413.40" y1="326.62" x2="568.00" y2="326.62" stroke="#f1f1f1" stroke-width=".5"/><line x1="413.40" y1="311.88" x2="568.00" y2="311.88" stroke="#f1f1f1" stroke-width=".5"/><line x1="413.40" y1="297.14" x2="568.00" y2="297.14" stroke="#f1f1f1" stroke-width=".5"/><line x1="413.40" y1="282.40" x2="568.00" y2="282.40" stroke="#f1f1f1" stroke-width=".5"/><line x1="413.40" y1="282.40" x2="413.40" y2="356.10" stroke="#f4f4f4" stroke-width=".5"/><line x1="424.40" y1="282.40" x2="424.40" y2="356.10" stroke="#f4f4f4" stroke-width=".5"/><line x1="446.53" y1="282.40" x2="446.53" y2="356.10" stroke="#f4f4f4" stroke-width=".5"/><line x1="468.66" y1="282.40" x2="468.66" y2="356.10" stroke="#f4f4f4" stroke-width=".5"/><line x1="490.79" y1="282.40" x2="490.79" y2="356.10" stroke="#f4f4f4" stroke-width=".5"/><line x1="512.92" y1="282.40" x2="512.92" y2="356.10" stroke="#f4f4f4" stroke-width=".5"/><line x1="535.05" y1="282.40" x2="535.05" y2="356.10" stroke="#f4f4f4" stroke-width=".5"/><line x1="557.18" y1="282.40" x2="557.18" y2="356.10" stroke="#f4f4f4" stroke-width=".5"/><line x1="568.00" y1="282.40" x2="568.00" y2="356.10" stroke="#f4f4f4" stroke-width=".5"/><polygon points="424.40,356.10 424.40,306.15 446.53,312.89 468.66,299.15 490.79,292.42 512.92,304.32 535.05,297.33 557.18,285.03 557.18,356.10" fill="url(#gp3)"/><polyline points="424.40,306.15 446.53,312.89 468.66,299.15 490.79,292.42 512.92,304.32 535.05,297.33 557.18,285.03" fill="none" stroke="#189852" stroke-width="1.35" stroke-linejoin="round"/><line x1="557.18" y1="285.03" x2="557.18" y2="356.10" stroke="#189852" stroke-opacity=".6" stroke-width="1.15"/></svg>
<span style="left:579.80px;top:351.34px;font-size:6.8px;line-height:9.52px;color:#8f8f8f;font-weight:400;">0</span>
<span style="left:579.80px;top:336.60px;font-size:6.8px;line-height:9.52px;color:#8f8f8f;font-weight:400;">50</span>
<span style="left:579.80px;top:321.86px;font-size:6.8px;line-height:9.52px;color:#8f8f8f;font-weight:400;">100</span>
<span style="left:579.80px;top:307.12px;font-size:6.8px;line-height:9.52px;color:#8f8f8f;font-weight:400;">150</span>
<span style="left:579.80px;top:292.38px;font-size:6.8px;line-height:9.52px;color:#8f8f8f;font-weight:400;">200</span>
<span style="left:579.80px;top:277.64px;font-size:6.8px;line-height:9.52px;color:#8f8f8f;font-weight:400;">250</span>
<span style="left:431.80px;transform:translateX(-50%);top:360.14px;font-size:6.8px;line-height:9.52px;color:#8f8f8f;font-weight:400;">5-13</span>
<span style="left:453.93px;transform:translateX(-50%);top:360.14px;font-size:6.8px;line-height:9.52px;color:#8f8f8f;font-weight:400;">5-14</span>
<span style="left:476.06px;transform:translateX(-50%);top:360.14px;font-size:6.8px;line-height:9.52px;color:#8f8f8f;font-weight:400;">5-15</span>
<span style="left:498.19px;transform:translateX(-50%);top:360.14px;font-size:6.8px;line-height:9.52px;color:#8f8f8f;font-weight:400;">5-16</span>
<span style="left:520.32px;transform:translateX(-50%);top:360.14px;font-size:6.8px;line-height:9.52px;color:#8f8f8f;font-weight:400;">5-17</span>
<span style="left:542.45px;transform:translateX(-50%);top:360.14px;font-size:6.8px;line-height:9.52px;color:#8f8f8f;font-weight:400;">5-18</span>
<span style="left:564.58px;transform:translateX(-50%);top:360.14px;font-size:6.8px;line-height:9.52px;color:#8f8f8f;font-weight:400;">5-19</span>
<div style="left:542.10px;top:279.60px;width:45.90px;height:31.10px;background:#12b15b;border-radius:2px"></div>
<span style="left:546.10px;top:286.01px;font-size:6.8px;line-height:9.52px;color:#fff;font-weight:400;">时间: 5-19</span>
<span style="left:546.10px;top:297.05px;font-size:6.8px;line-height:9.52px;color:#fff;font-weight:400;">收入: 241.09</span>
<div style="left:407.90px;top:379.20px;width:184.10px;height:0.60px;background:#f0f0f0;"></div>
<span style="left:547.30px;top:393.52px;font-size:7.6px;line-height:10.64px;color:#9a9a9a;font-weight:400;">数据明细</span>
<svg style="left:583.85px;top:393.60px" width="5.50" height="8.80" viewBox="0 0 5 8"><polyline points="1,0.8 4,4 1,7.2" fill="none" stroke="#9a9a9a" stroke-width="1.1"/></svg>
<div style="left:396.00px;top:408.50px;width:207.00px;height:27.50px;background:#fff;box-shadow:0 -0.5px 0 rgba(0,0,0,.09)"></div>
<svg style="left:424.08px;top:412.17px" width="12.65" height="13.06" viewBox="0 0 12.4 12.8" fill="#16a957"><rect x="0.4" y="4.2" width="3.1" height="5.8" rx="1.3"/><rect x="4.4" y="0.1" width="3.5" height="9.9" rx="1.5"/><rect x="8.8" y="3.4" width="3.3" height="6.6" rx="1.4"/><rect x="0.4" y="11.6" width="11.7" height="1" rx=".4" opacity=".85"/></svg>
<svg style="left:492.88px;top:412.38px" width="12.65" height="12.65" viewBox="0 0 12.4 12.4" fill="none" stroke="#7d7d7d" stroke-width=".9" stroke-linejoin="round"><path d="M6.2 .8 L11.6 3.8 L6.2 6.8 L.8 3.8 Z"/><path d="M.8 6.3 L6.2 9.3 L11.6 6.3"/><path d="M.8 8.7 L6.2 11.7 L11.6 8.7"/></svg>
<svg style="left:561.67px;top:412.17px" width="13.06" height="13.06" viewBox="0 0 12.8 12.8" fill="none" stroke="#7d7d7d" stroke-width=".9"><circle cx="6.4" cy="6.4" r="5.9"/><circle cx="6.4" cy="5" r="2.1"/><path d="M2.6 10.6 Q3.2 7.6 6.4 7.6 Q9.6 7.6 10.2 10.6"/></svg>
<span style="left:430.40px;transform:translateX(-50%);top:426.22px;font-size:5.9px;line-height:8.26px;color:#16a957;font-weight:700;">数据</span>
<span style="left:499.20px;transform:translateX(-50%);top:426.22px;font-size:5.9px;line-height:8.26px;color:#8e8e8e;font-weight:400;">智能广告管理</span>
<span style="left:568.20px;transform:translateX(-50%);top:426.22px;font-size:5.9px;line-height:8.26px;color:#8e8e8e;font-weight:400;">账户</span>
</div>
<div class="p" style="left:0;top:0;width:800px;height:436px;clip-path:inset(0 0.00px 0 602.75px)">
<div style="left:602.75px;top:0.00px;width:197.25px;height:436.00px;background:#fff;"></div>
<div style="left:602.75px;top:0.00px;width:197.25px;height:160.00px;background:#4CC464;"></div>
<span style="left:618.00px;top:6.49px;font-size:8.3px;line-height:11.62px;color:#fff;font-weight:700;">15:08</span>
<svg style="left:770.51px;top:8.67px" width="9.34" height="6.23" viewBox="0 0 9 6" fill="rgba(255,255,255,.2)"><rect x="0" y="4" width="1.5" height="2"/><rect x="2.4" y="3" width="1.5" height="3"/><rect x="4.8" y="1.6" width="1.5" height="4.4"/><rect x="7.2" y="0" width="1.5" height="6"/></svg>
<svg style="left:780.89px;top:10.64px" width="6.23" height="4.77" viewBox="0 0 7 5.4" fill="#fff"><path d="M0 1.7 Q3.5 -1.4 7 1.7 L3.5 5.4 Z"/></svg>
<div style="left:791.00px;top:10.23px;width:9.34px;height:4.36px;background:#fff;border-radius:1px"></div>
<span style="left:706.50px;transform:translateX(-50%);top:30.83px;font-size:8.6px;line-height:12.04px;color:#fff;font-weight:500;">流量主服务助手</span>
<svg style="left:765.20px;top:27.20px" width="42.50" height="17.40" viewBox="-1 -1 42.50 17.40"><rect x="0" y="0" width="40.50" height="15.40" rx="7.70" fill="rgba(0,0,0,.165)" stroke="rgba(255,255,255,.16)" stroke-width=".6"/><circle cx="5.63" cy="7.70" r="1.15" fill="#fff"/><circle cx="9.84" cy="7.70" r="1.83" fill="#fff"/><circle cx="14.05" cy="7.70" r="1.15" fill="#fff"/><rect x="20.00" y="3.39" width=".5" height="8.62" fill="rgba(255,255,255,.14)"/><circle cx="30.66" cy="7.70" r="4.00" fill="none" stroke="#fff" stroke-width="1.85"/><circle cx="30.66" cy="7.70" r="2.10" fill="#fff"/></svg>
<span style="left:677.50px;top:49.17px;font-size:6.5px;line-height:9.1px;color:rgba(255,255,255,.78);font-weight:400;">账户</span>
<div style="left:695.00px;top:52.80px;width:12.00px;height:3.60px;background:rgba(255,255,255,0.2);filter:blur(0.5px)"></div>
<div style="left:722.00px;top:52.00px;width:6.50px;height:5.00px;background:rgba(255,255,255,0.42);filter:blur(0.4px)"></div>
<div style="left:734.00px;top:52.00px;width:5.00px;height:5.00px;background:rgba(255,255,255,0.42);filter:blur(0.4px)"></div>
<span style="left:612.40px;top:66.02px;font-size:7.6px;line-height:10.64px;color:#fff;font-weight:700;word-spacing:1.4px;letter-spacing:.12px">昨日收入 (元)</span>
<span style="left:666.20px;top:66.33px;font-size:7.068px;line-height:9.9px;color:rgba(255,255,255,.8);font-weight:400;">明细</span>
<span style="left:612.40px;top:76.77px;font-size:16.9px;line-height:23.66px;color:#fff;font-weight:400;-webkit-text-stroke:.28px #fff;letter-spacing:-.1px">495.82</span>
<span style="left:612.40px;top:103.56px;font-size:6px;line-height:8.4px;color:rgba(255,255,255,.62);font-weight:400;">日环比</span>
<span style="left:612.40px;top:112.65px;font-size:7.5px;line-height:10.5px;color:#fff;font-weight:400;-webkit-text-stroke:.2px #fff">+21.98%</span>
<span style="left:680.90px;top:103.56px;font-size:6px;line-height:8.4px;color:rgba(255,255,255,.62);font-weight:400;">周同比</span>
<span style="left:680.90px;top:112.65px;font-size:7.5px;line-height:10.5px;color:#fff;font-weight:400;-webkit-text-stroke:.2px #fff">+135.44%</span>
<span style="left:748.80px;top:103.56px;font-size:6px;line-height:8.4px;color:rgba(255,255,255,.62);font-weight:400;">本月收入 (元)</span>
<span style="left:748.80px;top:112.65px;font-size:7.5px;line-height:10.5px;color:#fff;font-weight:400;-webkit-text-stroke:.2px #fff">7,854.91</span>
<div style="left:672.45px;top:103.80px;width:0.60px;height:16.70px;background:rgba(255,255,255,.32);"></div>
<div style="left:741.35px;top:103.80px;width:0.60px;height:16.70px;background:rgba(255,255,255,.32);"></div>
<div style="left:613.00px;top:131.50px;width:94.00px;height:18.50px;background:rgba(0,0,0,.10);border-radius:1.5px"></div>
<span style="left:660.00px;transform:translateX(-50%);top:136.03px;font-size:7.4px;line-height:10.36px;color:#fff;font-weight:700;">全部广告</span>
<span style="left:754.40px;transform:translateX(-50%);top:136.03px;font-size:7.4px;line-height:10.36px;color:rgba(255,255,255,.78);font-weight:400;">智能广告</span>
<span style="left:612.40px;top:171.23px;font-size:7.4px;line-height:10.36px;color:#1c1c1c;font-weight:700;">指标趋势</span>
<span style="left:702.10px;top:171.23px;font-size:7.4px;line-height:10.36px;color:#10ae57;font-weight:700;">近7日</span>
<span style="left:730.80px;top:171.23px;font-size:7.4px;line-height:10.36px;color:#4a4a4a;font-weight:400;">近30日</span>
<span style="left:764.70px;top:171.23px;font-size:7.4px;line-height:10.36px;color:#4a4a4a;font-weight:400;">自定义</span>
<svg style="left:790.10px;top:174.10px" width="4.40" height="2.60" viewBox="0 0 4.4 2.6"><polygon points="0,0 4.4,0 2.2,2.6" fill="#333"/></svg>
<div style="left:602.75px;top:189.50px;width:197.25px;height:3.00px;background:#f7f7f7;"></div>
<span style="left:612.40px;top:202.65px;font-size:7.2px;line-height:10.08px;color:#1c1c1c;font-weight:500;">广告位</span>
<span style="left:641.10px;top:201.15px;width:21.80px;height:11.50px;line-height:11.50px;border-radius:5.75px;background:#e5f7ec;color:#10ae57;font-size:6.6px;text-align:center">所有</span>
<span style="left:667.50px;top:201.15px;width:30.00px;height:11.50px;line-height:11.50px;border-radius:5.75px;background:#f4f4f4;color:#5a5a5a;font-size:7.13px;text-align:center">Banner</span>
<span style="left:702.60px;top:201.15px;width:21.30px;height:11.50px;line-height:11.50px;border-radius:5.75px;background:#f4f4f4;color:#5a5a5a;font-size:6.6px;text-align:center">激励</span>
<span style="left:729.00px;top:201.15px;width:21.60px;height:11.50px;line-height:11.50px;border-radius:5.75px;background:#f4f4f4;color:#5a5a5a;font-size:6.6px;text-align:center">插屏</span>
<span style="left:755.90px;top:201.15px;width:21.60px;height:11.50px;line-height:11.50px;border-radius:5.75px;background:#f4f4f4;color:#5a5a5a;font-size:6.6px;text-align:center">视频</span>
<span style="left:641.10px;top:218.55px;width:21.80px;height:11.50px;line-height:11.50px;border-radius:5.75px;background:#f4f4f4;color:#5a5a5a;font-size:6.6px;text-align:center">贴片</span>
<span style="left:667.50px;top:218.55px;width:21.50px;height:11.50px;line-height:11.50px;border-radius:5.75px;background:#f4f4f4;color:#5a5a5a;font-size:6.6px;text-align:center">格子</span>
<span style="left:694.40px;top:218.55px;width:21.60px;height:11.50px;line-height:11.50px;border-radius:5.75px;background:#f4f4f4;color:#5a5a5a;font-size:6.6px;text-align:center">封面</span>
<span style="left:721.10px;top:218.55px;width:35.40px;height:11.50px;line-height:11.50px;border-radius:5.75px;background:#f4f4f4;color:#5a5a5a;font-size:6.6px;text-align:center">原生模板</span>
<span style="left:641.10px;top:235.75px;width:41.80px;height:11.50px;line-height:11.50px;border-radius:5.75px;background:#f4f4f4;color:#5a5a5a;font-size:6.6px;text-align:center">支付后底部</span>
<span style="left:687.80px;top:235.75px;width:48.20px;height:11.50px;line-height:11.50px;border-radius:5.75px;background:#f4f4f4;color:#5a5a5a;font-size:6.6px;text-align:center">支付后优惠券</span>
<span style="left:612.40px;top:254.65px;font-size:7.2px;line-height:10.08px;color:#1c1c1c;font-weight:500;">指标</span>
<span style="left:641.10px;top:253.15px;width:21.80px;height:11.50px;line-height:11.50px;border-radius:5.75px;background:#e5f7ec;color:#10ae57;font-size:6.6px;text-align:center">收入</span>
<svg style="left:602.75px;top:269.30px" width="197.25" height="83.70" viewBox="602.75 269.30 197.25 83.70"><defs><linearGradient id="gp4" x1="0" y1="0" x2="0" y2="1"><stop offset="0" stop-color="#25b866" stop-opacity="0.17"/><stop offset="1" stop-color="#25b866" stop-opacity="0"/></linearGradient></defs><line x1="616.80" y1="345.00" x2="782.00" y2="345.00" stroke="#f1f1f1" stroke-width=".5"/><line x1="616.80" y1="331.46" x2="782.00" y2="331.46" stroke="#f1f1f1" stroke-width=".5"/><line x1="616.80" y1="317.92" x2="782.00" y2="317.92" stroke="#f1f1f1" stroke-width=".5"/><line x1="616.80" y1="304.38" x2="782.00" y2="304.38" stroke="#f1f1f1" stroke-width=".5"/><line x1="616.80" y1="290.84" x2="782.00" y2="290.84" stroke="#f1f1f1" stroke-width=".5"/><line x1="616.80" y1="277.30" x2="782.00" y2="277.30" stroke="#f1f1f1" stroke-width=".5"/><line x1="616.80" y1="277.30" x2="616.80" y2="345.00" stroke="#f4f4f4" stroke-width=".5"/><line x1="629.60" y1="277.30" x2="629.60" y2="345.00" stroke="#f4f4f4" stroke-width=".5"/><line x1="653.08" y1="277.30" x2="653.08" y2="345.00" stroke="#f4f4f4" stroke-width=".5"/><line x1="676.56" y1="277.30" x2="676.56" y2="345.00" stroke="#f4f4f4" stroke-width=".5"/><line x1="700.04" y1="277.30" x2="700.04" y2="345.00" stroke="#f4f4f4" stroke-width=".5"/><line x1="723.52" y1="277.30" x2="723.52" y2="345.00" stroke="#f4f4f4" stroke-width=".5"/><line x1="747.00" y1="277.30" x2="747.00" y2="345.00" stroke="#f4f4f4" stroke-width=".5"/><line x1="770.48" y1="277.30" x2="770.48" y2="345.00" stroke="#f4f4f4" stroke-width=".5"/><line x1="782.00" y1="277.30" x2="782.00" y2="345.00" stroke="#f4f4f4" stroke-width=".5"/><polygon points="629.60,345.00 629.60,302.35 653.08,307.03 676.56,305.15 700.04,297.01 723.52,291.47 747.00,286.08 770.48,277.87 770.48,345.00" fill="url(#gp4)"/><polyline points="629.60,302.35 653.08,307.03 676.56,305.15 700.04,297.01 723.52,291.47 747.00,286.08 770.48,277.87" fill="none" stroke="#4caf6e" stroke-width="1.35" stroke-linejoin="round"/><line x1="770.48" y1="277.87" x2="770.48" y2="345.00" stroke="#4caf6e" stroke-opacity=".6" stroke-width="1.15"/></svg>
<span style="left:792.30px;top:340.66px;font-size:6.2px;line-height:8.68px;color:#8f8f8f;font-weight:400;">0</span>
<span style="left:792.30px;top:327.12px;font-size:6.2px;line-height:8.68px;color:#8f8f8f;font-weight:400;">100</span>
<span style="left:792.30px;top:313.58px;font-size:6.2px;line-height:8.68px;color:#8f8f8f;font-weight:400;">200</span>
<span style="left:792.30px;top:300.04px;font-size:6.2px;line-height:8.68px;color:#8f8f8f;font-weight:400;">300</span>
<span style="left:792.30px;top:286.50px;font-size:6.2px;line-height:8.68px;color:#8f8f8f;font-weight:400;">400</span>
<span style="left:792.30px;top:272.96px;font-size:6.2px;line-height:8.68px;color:#8f8f8f;font-weight:400;">500</span>
<span style="left:635.20px;transform:translateX(-50%);top:348.56px;font-size:6.2px;line-height:8.68px;color:#8f8f8f;font-weight:400;">5-14</span>
<span style="left:658.68px;transform:translateX(-50%);top:348.56px;font-size:6.2px;line-height:8.68px;color:#8f8f8f;font-weight:400;">5-15</span>
<span style="left:682.16px;transform:translateX(-50%);top:348.56px;font-size:6.2px;line-height:8.68px;color:#8f8f8f;font-weight:400;">5-16</span>
<span style="left:705.64px;transform:translateX(-50%);top:348.56px;font-size:6.2px;line-height:8.68px;color:#8f8f8f;font-weight:400;">5-17</span>
<span style="left:729.12px;transform:translateX(-50%);top:348.56px;font-size:6.2px;line-height:8.68px;color:#8f8f8f;font-weight:400;">5-18</span>
<span style="left:752.60px;transform:translateX(-50%);top:348.56px;font-size:6.2px;line-height:8.68px;color:#8f8f8f;font-weight:400;">5-19</span>
<span style="left:776.08px;transform:translateX(-50%);top:348.56px;font-size:6.2px;line-height:8.68px;color:#8f8f8f;font-weight:400;">5-20</span>
<div style="left:754.40px;top:275.60px;width:41.80px;height:28.20px;background:#3dba60;border-radius:2px"></div>
<span style="left:758.40px;top:281.51px;font-size:6px;line-height:8.4px;color:#fff;font-weight:400;">时间: 5-20</span>
<span style="left:758.40px;top:291.52px;font-size:6px;line-height:8.4px;color:#fff;font-weight:400;">收入: 495.82</span>
<div style="left:612.40px;top:365.90px;width:187.60px;height:0.60px;background:#f0f0f0;"></div>
<span style="left:761.00px;top:378.77px;font-size:7px;line-height:9.8px;color:#9a9a9a;font-weight:400;">数据明细</span>
<svg style="left:795.00px;top:378.90px" width="5.00" height="8.00" viewBox="0 0 5 8"><polyline points="1,0.8 4,4 1,7.2" fill="none" stroke="#9a9a9a" stroke-width="1.1"/></svg>
<div style="left:602.75px;top:400.00px;width:197.25px;height:4.00px;background:#f6f6f6;"></div>
<div style="left:602.75px;top:412.00px;width:197.25px;height:24.00px;background:#fff;box-shadow:0 -0.5px 0 rgba(0,0,0,.09)"></div>
<svg style="left:631.80px;top:416.01px" width="11.41" height="11.78" viewBox="0 0 12.4 12.8" fill="#16a957"><rect x="0.4" y="4.2" width="3.1" height="5.8" rx="1.3"/><rect x="4.4" y="0.1" width="3.5" height="9.9" rx="1.5"/><rect x="8.8" y="3.4" width="3.3" height="6.6" rx="1.4"/><rect x="0.4" y="11.6" width="11.7" height="1" rx=".4" opacity=".85"/></svg>
<svg style="left:701.30px;top:416.20px" width="11.41" height="11.41" viewBox="0 0 12.4 12.4" fill="none" stroke="#7d7d7d" stroke-width=".9" stroke-linejoin="round"><path d="M6.2 .8 L11.6 3.8 L6.2 6.8 L.8 3.8 Z"/><path d="M.8 6.3 L6.2 9.3 L11.6 6.3"/><path d="M.8 8.7 L6.2 11.7 L11.6 8.7"/></svg>
<svg style="left:771.11px;top:416.01px" width="11.78" height="11.78" viewBox="0 0 12.8 12.8" fill="none" stroke="#7d7d7d" stroke-width=".9"><circle cx="6.4" cy="6.4" r="5.9"/><circle cx="6.4" cy="5" r="2.1"/><path d="M2.6 10.6 Q3.2 7.6 6.4 7.6 Q9.6 7.6 10.2 10.6"/></svg>
<span style="left:637.50px;transform:translateX(-50%);top:428.65px;font-size:5.5px;line-height:7.7px;color:#16a957;font-weight:700;">数据</span>
<span style="left:707.00px;transform:translateX(-50%);top:428.65px;font-size:5.5px;line-height:7.7px;color:#8e8e8e;font-weight:400;">智能广告管理</span>
<span style="left:777.00px;transform:translateX(-50%);top:428.65px;font-size:5.5px;line-height:7.7px;color:#8e8e8e;font-weight:400;">账户</span>
</div>
<div class="p" style="left:0;top:0;width:800px;height:871px;clip-path:inset(434.70px 591.50px 0 0.00px)">
<div style="left:0.00px;top:434.70px;width:208.50px;height:436.30px;background:#f9f9f9;"></div>
<div style="left:0.00px;top:434.70px;width:208.50px;height:45.90px;background:#48BC60;"></div>
<span style="left:15.50px;top:441.48px;font-size:8.6px;line-height:12.04px;color:#fff;font-weight:700;">15:08</span>
<svg style="left:166.53px;top:443.74px" width="9.67" height="6.45" viewBox="0 0 9 6" fill="rgba(255,255,255,.2)"><rect x="0" y="4" width="1.5" height="2"/><rect x="2.4" y="3" width="1.5" height="3"/><rect x="4.8" y="1.6" width="1.5" height="4.4"/><rect x="7.2" y="0" width="1.5" height="6"/></svg>
<svg style="left:177.28px;top:445.78px" width="6.45" height="4.94" viewBox="0 0 7 5.4" fill="#fff"><path d="M0 1.7 Q3.5 -1.4 7 1.7 L3.5 5.4 Z"/></svg>
<div style="left:188.00px;top:445.35px;width:9.67px;height:4.51px;background:#fff;border-radius:1px"></div>
<svg style="left:7.90px;top:464.00px" width="8.40" height="12.00" viewBox="0 0 7 10"><polyline points="5.6,0.8 1.4,5 5.6,9.2" fill="none" stroke="#fff" stroke-width="1.15"/></svg>
<span style="left:104.50px;transform:translateX(-50%);top:464.84px;font-size:8.75px;line-height:12.25px;color:#fff;font-weight:500;">账户收入明细</span>
<svg style="left:161.50px;top:461.50px" width="44.20" height="16.40" viewBox="-1 -1 44.20 16.40"><rect x="0" y="0" width="42.20" height="14.40" rx="7.20" fill="rgba(0,0,0,.165)" stroke="rgba(255,255,255,.16)" stroke-width=".6"/><circle cx="6.32" cy="7.20" r="1.08" fill="#fff"/><circle cx="10.25" cy="7.20" r="1.71" fill="#fff"/><circle cx="14.19" cy="7.20" r="1.08" fill="#fff"/><rect x="20.85" y="3.17" width=".5" height="8.06" fill="rgba(255,255,255,.14)"/><circle cx="31.95" cy="7.20" r="3.74" fill="none" stroke="#fff" stroke-width="1.73"/><circle cx="31.95" cy="7.20" r="1.97" fill="#fff"/></svg>
<div style="left:0.00px;top:480.60px;width:208.50px;height:29.80px;background:#fff;"></div>
<span style="left:10.00px;top:492.19px;font-size:7.3px;line-height:10.22px;color:#1c1c1c;font-weight:700;">日期范围</span>
<span style="left:99.50px;top:492.19px;font-size:7.3px;line-height:10.22px;color:#10ae57;font-weight:700;">近7日</span>
<span style="left:128.00px;top:492.19px;font-size:7.3px;line-height:10.22px;color:#4a4a4a;font-weight:400;">近30日</span>
<span style="left:162.00px;top:492.19px;font-size:7.3px;line-height:10.22px;color:#4a4a4a;font-weight:400;">自定义</span>
<svg style="left:186.80px;top:495.00px" width="4.40" height="2.60" viewBox="0 0 4.4 2.6"><polygon points="0,0 4.4,0 2.2,2.6" fill="#333"/></svg>
<span style="left:10.50px;top:516.46px;font-size:6px;line-height:8.4px;color:#a8a8a8;font-weight:400;">日期</span>
<span style="left:198.50px;transform:translateX(-100%);top:516.46px;font-size:6px;line-height:8.4px;color:#a8a8a8;font-weight:400;">收入 (元)</span>
<div style="left:0.00px;top:529.70px;width:208.50px;height:137.34px;background:#fff;"></div>
<svg style="left:9.82px;top:536.51px" width="3.75" height="6.00" viewBox="0 0 5 8"><polyline points="1,0.8 4,4 1,7.2" fill="none" stroke="#333" stroke-width="1.4"/></svg>
<span style="left:18.40px;top:534.68px;font-size:6.9px;line-height:9.66px;color:#222;font-weight:400;-webkit-text-stroke:.12px #222">2025-05-20</span>
<span style="left:198.50px;transform:translateX(-100%);top:534.89px;font-size:6.6px;line-height:9.24px;color:#6e6e6e;font-weight:400;">495.82</span>
<div style="left:0.00px;top:549.02px;width:208.50px;height:0.60px;background:#f7f7f7;"></div>
<svg style="left:9.82px;top:556.13px" width="3.75" height="6.00" viewBox="0 0 5 8"><polyline points="1,0.8 4,4 1,7.2" fill="none" stroke="#333" stroke-width="1.4"/></svg>
<span style="left:18.40px;top:554.30px;font-size:6.9px;line-height:9.66px;color:#222;font-weight:400;-webkit-text-stroke:.12px #222">2025-05-19</span>
<span style="left:198.50px;transform:translateX(-100%);top:554.51px;font-size:6.6px;line-height:9.24px;color:#6e6e6e;font-weight:400;">435.16</span>
<div style="left:0.00px;top:568.64px;width:208.50px;height:0.60px;background:#f7f7f7;"></div>
<svg style="left:9.82px;top:575.75px" width="3.75" height="6.00" viewBox="0 0 5 8"><polyline points="1,0.8 4,4 1,7.2" fill="none" stroke="#333" stroke-width="1.4"/></svg>
<span style="left:18.40px;top:573.92px;font-size:6.9px;line-height:9.66px;color:#222;font-weight:400;-webkit-text-stroke:.12px #222">2025-05-18</span>
<span style="left:198.50px;transform:translateX(-100%);top:574.13px;font-size:6.6px;line-height:9.24px;color:#6e6e6e;font-weight:400;">395.38</span>
<div style="left:0.00px;top:588.26px;width:208.50px;height:0.60px;background:#f7f7f7;"></div>
<svg style="left:9.82px;top:595.37px" width="3.75" height="6.00" viewBox="0 0 5 8"><polyline points="1,0.8 4,4 1,7.2" fill="none" stroke="#333" stroke-width="1.4"/></svg>
<span style="left:18.40px;top:593.54px;font-size:6.9px;line-height:9.66px;color:#222;font-weight:400;-webkit-text-stroke:.12px #222">2025-05-17</span>
<span style="left:198.50px;transform:translateX(-100%);top:593.75px;font-size:6.6px;line-height:9.24px;color:#6e6e6e;font-weight:400;">354.43</span>
<div style="left:0.00px;top:607.88px;width:208.50px;height:0.60px;background:#f7f7f7;"></div>
<svg style="left:9.82px;top:614.99px" width="3.75" height="6.00" viewBox="0 0 5 8"><polyline points="1,0.8 4,4 1,7.2" fill="none" stroke="#333" stroke-width="1.4"/></svg>
<span style="left:18.40px;top:613.16px;font-size:6.9px;line-height:9.66px;color:#222;font-weight:400;-webkit-text-stroke:.12px #222">2025-05-16</span>
<span style="left:198.50px;transform:translateX(-100%);top:613.37px;font-size:6.6px;line-height:9.24px;color:#6e6e6e;font-weight:400;">294.35</span>
<div style="left:0.00px;top:627.50px;width:208.50px;height:0.60px;background:#f7f7f7;"></div>
<svg style="left:9.82px;top:634.61px" width="3.75" height="6.00" viewBox="0 0 5 8"><polyline points="1,0.8 4,4 1,7.2" fill="none" stroke="#333" stroke-width="1.4"/></svg>
<span style="left:18.40px;top:632.78px;font-size:6.9px;line-height:9.66px;color:#222;font-weight:400;-webkit-text-stroke:.12px #222">2025-05-15</span>
<span style="left:198.50px;transform:translateX(-100%);top:632.99px;font-size:6.6px;line-height:9.24px;color:#6e6e6e;font-weight:400;">280.44</span>
<div style="left:0.00px;top:647.12px;width:208.50px;height:0.60px;background:#f7f7f7;"></div>
<svg style="left:9.82px;top:654.23px" width="3.75" height="6.00" viewBox="0 0 5 8"><polyline points="1,0.8 4,4 1,7.2" fill="none" stroke="#333" stroke-width="1.4"/></svg>
<span style="left:18.40px;top:652.40px;font-size:6.9px;line-height:9.66px;color:#222;font-weight:400;-webkit-text-stroke:.12px #222">2025-05-14</span>
<span style="left:198.50px;transform:translateX(-100%);top:652.61px;font-size:6.6px;line-height:9.24px;color:#6e6e6e;font-weight:400;">315.02</span>
<span style="left:104.50px;transform:translateX(-50%);top:681.75px;font-size:5.5px;line-height:7.7px;color:#d6d6d6;font-weight:400;">没有更多了</span>
</div>
<div class="p" style="left:0;top:0;width:800px;height:871px;clip-path:inset(435.00px 397.00px 0 208.50px)">
<div style="left:208.50px;top:435.00px;width:194.50px;height:436.00px;background:#f9f9f9;"></div>
<div style="left:208.50px;top:435.00px;width:194.50px;height:26.75px;background:#10B95A;"></div>
<svg style="left:208.30px;top:445.80px" width="7.00" height="10.00" viewBox="0 0 7 10"><polyline points="5.6,0.8 1.4,5 5.6,9.2" fill="none" stroke="#fff" stroke-width="1.15"/></svg>
<span style="left:300.30px;transform:translateX(-50%);top:445.79px;font-size:8.5px;line-height:11.9px;color:#fff;font-weight:500;">账户收入明细</span>
<svg style="left:348.80px;top:441.70px" width="49.30" height="17.70" viewBox="-1 -1 49.30 17.70"><rect x="0" y="0" width="47.30" height="15.70" rx="7.85" fill="rgba(0,0,0,.165)" stroke="rgba(255,255,255,.16)" stroke-width=".6"/><circle cx="7.20" cy="7.85" r="1.17" fill="#fff"/><circle cx="11.49" cy="7.85" r="1.86" fill="#fff"/><circle cx="15.79" cy="7.85" r="1.17" fill="#fff"/><rect x="23.40" y="3.45" width=".5" height="8.79" fill="rgba(255,255,255,.14)"/><circle cx="35.81" cy="7.85" r="4.08" fill="none" stroke="#fff" stroke-width="1.88"/><circle cx="35.81" cy="7.85" r="2.15" fill="#fff"/></svg>
<div style="left:208.50px;top:461.75px;width:194.50px;height:29.85px;background:#fff;"></div>
<span style="left:209.50px;top:472.83px;font-size:6.9px;line-height:9.66px;color:#1c1c1c;font-weight:700;">日期范围</span>
<span style="left:294.60px;top:472.83px;font-size:6.9px;line-height:9.66px;color:#10ae57;font-weight:700;">近7日</span>
<span style="left:322.90px;top:472.83px;font-size:6.9px;line-height:9.66px;color:#4a4a4a;font-weight:400;">近30日</span>
<span style="left:355.90px;top:472.83px;font-size:6.9px;line-height:9.66px;color:#4a4a4a;font-weight:400;">自定义</span>
<svg style="left:380.60px;top:475.40px" width="4.40" height="2.60" viewBox="0 0 4.4 2.6"><polygon points="0,0 4.4,0 2.2,2.6" fill="#333"/></svg>
<span style="left:209.30px;top:496.98px;font-size:5.8px;line-height:8.12px;color:#a8a8a8;font-weight:400;">日期</span>
<span style="left:392.50px;transform:translateX(-100%);top:496.98px;font-size:5.8px;line-height:8.12px;color:#a8a8a8;font-weight:400;">收入 (元)</span>
<div style="left:208.50px;top:511.30px;width:194.50px;height:140.70px;background:#fff;"></div>
<svg style="left:209.35px;top:519.67px" width="2.10" height="3.36" viewBox="0 0 5 8"><polyline points="1,0.8 4,4 1,7.2" fill="none" stroke="#333" stroke-width="1.4"/></svg>
<span style="left:217.00px;top:516.87px;font-size:6.4px;line-height:8.96px;color:#222;font-weight:400;-webkit-text-stroke:.12px #222">2025-05-19</span>
<span style="left:392.50px;transform:translateX(-100%);top:517.01px;font-size:6.2px;line-height:8.68px;color:#6e6e6e;font-weight:400;">348.17</span>
<div style="left:208.50px;top:531.10px;width:194.50px;height:0.60px;background:#f7f7f7;"></div>
<svg style="left:209.35px;top:539.77px" width="2.10" height="3.36" viewBox="0 0 5 8"><polyline points="1,0.8 4,4 1,7.2" fill="none" stroke="#333" stroke-width="1.4"/></svg>
<span style="left:217.00px;top:536.97px;font-size:6.4px;line-height:8.96px;color:#222;font-weight:400;-webkit-text-stroke:.12px #222">2025-05-18</span>
<span style="left:392.50px;transform:translateX(-100%);top:537.11px;font-size:6.2px;line-height:8.68px;color:#6e6e6e;font-weight:400;">316.72</span>
<div style="left:208.50px;top:551.20px;width:194.50px;height:0.60px;background:#f7f7f7;"></div>
<svg style="left:209.35px;top:559.87px" width="2.10" height="3.36" viewBox="0 0 5 8"><polyline points="1,0.8 4,4 1,7.2" fill="none" stroke="#333" stroke-width="1.4"/></svg>
<span style="left:217.00px;top:557.07px;font-size:6.4px;line-height:8.96px;color:#222;font-weight:400;-webkit-text-stroke:.12px #222">2025-05-17</span>
<span style="left:392.50px;transform:translateX(-100%);top:557.21px;font-size:6.2px;line-height:8.68px;color:#6e6e6e;font-weight:400;">294.12</span>
<div style="left:208.50px;top:571.30px;width:194.50px;height:0.60px;background:#f7f7f7;"></div>
<svg style="left:209.35px;top:579.97px" width="2.10" height="3.36" viewBox="0 0 5 8"><polyline points="1,0.8 4,4 1,7.2" fill="none" stroke="#333" stroke-width="1.4"/></svg>
<span style="left:217.00px;top:577.17px;font-size:6.4px;line-height:8.96px;color:#222;font-weight:400;-webkit-text-stroke:.12px #222">2025-05-16</span>
<span style="left:392.50px;transform:translateX(-100%);top:577.31px;font-size:6.2px;line-height:8.68px;color:#6e6e6e;font-weight:400;">350.41</span>
<div style="left:208.50px;top:591.40px;width:194.50px;height:0.60px;background:#f7f7f7;"></div>
<svg style="left:209.35px;top:600.07px" width="2.10" height="3.36" viewBox="0 0 5 8"><polyline points="1,0.8 4,4 1,7.2" fill="none" stroke="#333" stroke-width="1.4"/></svg>
<span style="left:217.00px;top:597.27px;font-size:6.4px;line-height:8.96px;color:#222;font-weight:400;-webkit-text-stroke:.12px #222">2025-05-15</span>
<span style="left:392.50px;transform:translateX(-100%);top:597.41px;font-size:6.2px;line-height:8.68px;color:#6e6e6e;font-weight:400;">328.46</span>
<div style="left:208.50px;top:611.50px;width:194.50px;height:0.60px;background:#f7f7f7;"></div>
<svg style="left:209.35px;top:620.17px" width="2.10" height="3.36" viewBox="0 0 5 8"><polyline points="1,0.8 4,4 1,7.2" fill="none" stroke="#333" stroke-width="1.4"/></svg>
<span style="left:217.00px;top:617.37px;font-size:6.4px;line-height:8.96px;color:#222;font-weight:400;-webkit-text-stroke:.12px #222">2025-05-14</span>
<span style="left:392.50px;transform:translateX(-100%);top:617.51px;font-size:6.2px;line-height:8.68px;color:#6e6e6e;font-weight:400;">285.64</span>
<div style="left:208.50px;top:631.60px;width:194.50px;height:0.60px;background:#f7f7f7;"></div>
<svg style="left:209.35px;top:640.27px" width="2.10" height="3.36" viewBox="0 0 5 8"><polyline points="1,0.8 4,4 1,7.2" fill="none" stroke="#333" stroke-width="1.4"/></svg>
<span style="left:217.00px;top:637.47px;font-size:6.4px;line-height:8.96px;color:#222;font-weight:400;-webkit-text-stroke:.12px #222">2025-05-13</span>
<span style="left:392.50px;transform:translateX(-100%);top:637.61px;font-size:6.2px;line-height:8.68px;color:#6e6e6e;font-weight:400;">235.14</span>
<span style="left:300.90px;transform:translateX(-50%);top:665.63px;font-size:5.2px;line-height:7.28px;color:#d6d6d6;font-weight:400;">—  没有更多了  —</span>
</div>
<div class="p" style="left:0;top:0;width:800px;height:871px;clip-path:inset(435.00px 196.80px 0 402.50px)">
<div style="left:402.50px;top:435.00px;width:200.70px;height:436.00px;background:#f9f9f9;"></div>
<div style="left:402.50px;top:435.00px;width:200.70px;height:30.00px;background:#10B95A;"></div>
<svg style="left:411.50px;top:447.60px" width="7.00" height="10.00" viewBox="0 0 7 10"><polyline points="5.6,0.8 1.4,5 5.6,9.2" fill="none" stroke="#fff" stroke-width="1.15"/></svg>
<span style="left:505.00px;transform:translateX(-50%);top:447.11px;font-size:9.3px;line-height:13.02px;color:#fff;font-weight:500;">账户收入明细</span>
<svg style="left:549.90px;top:443.90px" width="53.60" height="17.70" viewBox="-1 -1 53.60 17.70"><rect x="0" y="0" width="51.60" height="15.70" rx="7.85" fill="rgba(0,0,0,.165)" stroke="rgba(255,255,255,.16)" stroke-width=".6"/><circle cx="8.25" cy="7.85" r="1.17" fill="#fff"/><circle cx="12.54" cy="7.85" r="1.86" fill="#fff"/><circle cx="16.83" cy="7.85" r="1.17" fill="#fff"/><rect x="25.55" y="3.45" width=".5" height="8.79" fill="rgba(255,255,255,.14)"/><circle cx="39.06" cy="7.85" r="4.08" fill="none" stroke="#fff" stroke-width="1.88"/><circle cx="39.06" cy="7.85" r="2.15" fill="#fff"/></svg>
<div style="left:402.50px;top:465.00px;width:200.70px;height:32.60px;background:#fff;"></div>
<span style="left:413.80px;top:476.83px;font-size:7.75px;line-height:10.85px;color:#1c1c1c;font-weight:700;">日期范围</span>
<span style="left:489.00px;top:476.83px;font-size:7.75px;line-height:10.85px;color:#10ae57;font-weight:700;">近7日</span>
<span style="left:520.10px;top:476.83px;font-size:7.75px;line-height:10.85px;color:#4a4a4a;font-weight:400;">近30日</span>
<span style="left:556.40px;top:476.83px;font-size:7.75px;line-height:10.85px;color:#4a4a4a;font-weight:400;">自定义</span>
<svg style="left:584.40px;top:479.90px" width="4.40" height="2.60" viewBox="0 0 4.4 2.6"><polygon points="0,0 4.4,0 2.2,2.6" fill="#333"/></svg>
<span style="left:414.20px;top:504.22px;font-size:6.4px;line-height:8.96px;color:#a8a8a8;font-weight:400;">日期</span>
<span style="left:596.80px;transform:translateX(-100%);top:504.22px;font-size:6.4px;line-height:8.96px;color:#a8a8a8;font-weight:400;">收入 (元)</span>
<div style="left:402.50px;top:519.25px;width:200.70px;height:148.75px;background:#fff;"></div>
<svg style="left:412.38px;top:526.48px" width="4.25" height="6.80" viewBox="0 0 5 8"><polyline points="1,0.8 4,4 1,7.2" fill="none" stroke="#333" stroke-width="1.4"/></svg>
<span style="left:422.50px;top:524.73px;font-size:7.35px;line-height:10.29px;color:#222;font-weight:400;-webkit-text-stroke:.12px #222">2025-05-19</span>
<span style="left:596.80px;transform:translateX(-100%);top:524.98px;font-size:7px;line-height:9.8px;color:#6e6e6e;font-weight:400;">241.09</span>
<div style="left:402.50px;top:540.20px;width:200.70px;height:0.60px;background:#f7f7f7;"></div>
<svg style="left:412.38px;top:547.73px" width="4.25" height="6.80" viewBox="0 0 5 8"><polyline points="1,0.8 4,4 1,7.2" fill="none" stroke="#333" stroke-width="1.4"/></svg>
<span style="left:422.50px;top:545.98px;font-size:7.35px;line-height:10.29px;color:#222;font-weight:400;-webkit-text-stroke:.12px #222">2025-05-18</span>
<span style="left:596.80px;transform:translateX(-100%);top:546.23px;font-size:7px;line-height:9.8px;color:#6e6e6e;font-weight:400;">199.35</span>
<div style="left:402.50px;top:561.45px;width:200.70px;height:0.60px;background:#f7f7f7;"></div>
<svg style="left:412.38px;top:568.98px" width="4.25" height="6.80" viewBox="0 0 5 8"><polyline points="1,0.8 4,4 1,7.2" fill="none" stroke="#333" stroke-width="1.4"/></svg>
<span style="left:422.50px;top:567.23px;font-size:7.35px;line-height:10.29px;color:#222;font-weight:400;-webkit-text-stroke:.12px #222">2025-05-17</span>
<span style="left:596.80px;transform:translateX(-100%);top:567.48px;font-size:7px;line-height:9.8px;color:#6e6e6e;font-weight:400;">175.64</span>
<div style="left:402.50px;top:582.70px;width:200.70px;height:0.60px;background:#f7f7f7;"></div>
<svg style="left:412.38px;top:590.23px" width="4.25" height="6.80" viewBox="0 0 5 8"><polyline points="1,0.8 4,4 1,7.2" fill="none" stroke="#333" stroke-width="1.4"/></svg>
<span style="left:422.50px;top:588.48px;font-size:7.35px;line-height:10.29px;color:#222;font-weight:400;-webkit-text-stroke:.12px #222">2025-05-16</span>
<span style="left:596.80px;transform:translateX(-100%);top:588.73px;font-size:7px;line-height:9.8px;color:#6e6e6e;font-weight:400;">216.02</span>
<div style="left:402.50px;top:603.95px;width:200.70px;height:0.60px;background:#f7f7f7;"></div>
<svg style="left:412.38px;top:611.48px" width="4.25" height="6.80" viewBox="0 0 5 8"><polyline points="1,0.8 4,4 1,7.2" fill="none" stroke="#333" stroke-width="1.4"/></svg>
<span style="left:422.50px;top:609.73px;font-size:7.35px;line-height:10.29px;color:#222;font-weight:400;-webkit-text-stroke:.12px #222">2025-05-15</span>
<span style="left:596.80px;transform:translateX(-100%);top:609.98px;font-size:7px;line-height:9.8px;color:#6e6e6e;font-weight:400;">193.17</span>
<div style="left:402.50px;top:625.20px;width:200.70px;height:0.60px;background:#f7f7f7;"></div>
<svg style="left:412.38px;top:632.73px" width="4.25" height="6.80" viewBox="0 0 5 8"><polyline points="1,0.8 4,4 1,7.2" fill="none" stroke="#333" stroke-width="1.4"/></svg>
<span style="left:422.50px;top:630.98px;font-size:7.35px;line-height:10.29px;color:#222;font-weight:400;-webkit-text-stroke:.12px #222">2025-05-14</span>
<span style="left:596.80px;transform:translateX(-100%);top:631.23px;font-size:7px;line-height:9.8px;color:#6e6e6e;font-weight:400;">146.59</span>
<div style="left:402.50px;top:646.45px;width:200.70px;height:0.60px;background:#f7f7f7;"></div>
<svg style="left:412.38px;top:653.98px" width="4.25" height="6.80" viewBox="0 0 5 8"><polyline points="1,0.8 4,4 1,7.2" fill="none" stroke="#333" stroke-width="1.4"/></svg>
<span style="left:422.50px;top:652.23px;font-size:7.35px;line-height:10.29px;color:#222;font-weight:400;-webkit-text-stroke:.12px #222">2025-05-13</span>
<span style="left:596.80px;transform:translateX(-100%);top:652.48px;font-size:7px;line-height:9.8px;color:#6e6e6e;font-weight:400;">169.42</span>
<span style="left:505.50px;transform:translateX(-50%);top:684.50px;font-size:5.6px;line-height:7.84px;color:#d6d6d6;font-weight:400;">—  没有更多了  —</span>
</div>
<div class="p" style="left:0;top:0;width:800px;height:871px;clip-path:inset(434.50px 0.00px 0 603.00px)">
<div style="left:603.00px;top:434.50px;width:197.00px;height:436.50px;background:#f9f9f9;"></div>
<div style="left:603.00px;top:434.50px;width:197.00px;height:40.00px;background:#10B95A;"></div>
<span style="left:613.50px;top:439.75px;font-size:6.496px;line-height:9.09px;color:#fff;font-weight:700;transform:scaleX(.9);transform-origin:0 50%">13:13</span>
<div style="left:631.61px;top:440.70px;width:7.19px;height:7.19px;border-radius:50%;background:#fff"></div>
<div style="left:633.12px;top:442.21px;width:4.17px;height:4.17px;background:#2b3fae;border-radius:50%"></div>
<div style="left:634.49px;top:443.58px;width:1.44px;height:1.44px;background:#fff;border-radius:50%"></div>
<svg style="left:735.40px;top:440.91px" width="54.40" height="6.88" viewBox="0 0 53 8" preserveAspectRatio="none" fill="#fff"><circle cx="3.6" cy="4" r="3" fill="none" stroke="#fff" stroke-width="1"/><path d="M1 7 L6.4 1" stroke="#fff" stroke-width="1"/><path d="M9.5 7.3 L9.5 5.4 L11 5.4 L11 4.2 L12.6 4.2 L12.6 2.8 L14.2 2.8 L14.2 1 L17 1 L17 7.3 Z"/><rect x="9.3" y=".8" width="3.6" height="1.1"/><path d="M20 7.3 L20 5.4 L21.5 5.4 L21.5 4.2 L23.1 4.2 L23.1 2.8 L24.7 2.8 L24.7 1 L27.5 1 L27.5 7.3 Z"/><rect x="19.8" y=".8" width="3.6" height="1.1"/><path d="M30.3 2.9 Q34.6 -.9 38.9 2.9 L34.6 7.4 Z"/><rect x="41.6" y="1" width="9.6" height="6" rx="1.6" fill="none" stroke="#fff" stroke-width=".9"/><rect x="42.9" y="2.2" width="4.8" height="3.6" rx=".6"/><rect x="51.6" y="2.7" width="1" height="2.6" rx=".4"/></svg>
<svg style="left:611.10px;top:458.30px" width="7.00" height="10.00" viewBox="0 0 7 10"><polyline points="5.6,0.8 1.4,5 5.6,9.2" fill="none" stroke="#fff" stroke-width="1.15"/></svg>
<span style="left:701.40px;transform:translateX(-50%);top:458.46px;font-size:8.2px;line-height:11.48px;color:#fff;font-weight:500;">账户收入明细</span>
<svg style="left:748.50px;top:455.10px" width="47.40" height="16.60" viewBox="-1 -1 47.40 16.60"><rect x="0" y="0" width="45.40" height="14.60" rx="7.30" fill="rgba(0,0,0,.165)" stroke="rgba(255,255,255,.16)" stroke-width=".6"/><circle cx="7.04" cy="7.30" r="1.09" fill="#fff"/><circle cx="11.03" cy="7.30" r="1.73" fill="#fff"/><circle cx="15.02" cy="7.30" r="1.09" fill="#fff"/><rect x="22.45" y="3.21" width=".5" height="8.18" fill="rgba(255,255,255,.14)"/><circle cx="34.37" cy="7.30" r="3.80" fill="none" stroke="#fff" stroke-width="1.75"/><circle cx="34.37" cy="7.30" r="2.00" fill="#fff"/></svg>
<div style="left:603.00px;top:474.50px;width:197.00px;height:27.50px;background:#fff;"></div>
<span style="left:612.40px;top:485.27px;font-size:7px;line-height:9.8px;color:#1c1c1c;font-weight:700;">日期范围</span>
<span style="left:695.70px;top:485.27px;font-size:7px;line-height:9.8px;color:#4a4a4a;font-weight:400;">近7日</span>
<span style="left:722.40px;top:485.27px;font-size:7px;line-height:9.8px;color:#10ae57;font-weight:700;">近30日</span>
<span style="left:754.70px;top:485.27px;font-size:7px;line-height:9.8px;color:#4a4a4a;font-weight:400;">自定义</span>
<svg style="left:779.10px;top:487.90px" width="4.40" height="2.60" viewBox="0 0 4.4 2.6"><polygon points="0,0 4.4,0 2.2,2.6" fill="#333"/></svg>
<span style="left:612.40px;top:508.78px;font-size:5.8px;line-height:8.12px;color:#a8a8a8;font-weight:400;">日期</span>
<span style="left:790.30px;transform:translateX(-100%);top:508.78px;font-size:5.8px;line-height:8.12px;color:#a8a8a8;font-weight:400;">收入 (元)</span>
<div style="left:603.00px;top:521.80px;width:197.00px;height:97.00px;background:#fff;"></div>
<svg style="left:611.85px;top:528.70px" width="3.50" height="5.60" viewBox="0 0 5 8"><polyline points="1,0.8 4,4 1,7.2" fill="none" stroke="#333" stroke-width="1.4"/></svg>
<span style="left:620.10px;top:527.02px;font-size:6.4px;line-height:8.96px;color:#222;font-weight:400;-webkit-text-stroke:.12px #222">2025-05-20</span>
<span style="left:790.30px;transform:translateX(-100%);top:527.16px;font-size:6.2px;line-height:8.68px;color:#6e6e6e;font-weight:400;">156.38</span>
<div style="left:603.00px;top:540.90px;width:197.00px;height:0.60px;background:#f7f7f7;"></div>
<svg style="left:611.85px;top:548.10px" width="3.50" height="5.60" viewBox="0 0 5 8"><polyline points="1,0.8 4,4 1,7.2" fill="none" stroke="#333" stroke-width="1.4"/></svg>
<span style="left:620.10px;top:546.42px;font-size:6.4px;line-height:8.96px;color:#222;font-weight:400;-webkit-text-stroke:.12px #222">2025-05-19</span>
<span style="left:790.30px;transform:translateX(-100%);top:546.56px;font-size:6.2px;line-height:8.68px;color:#6e6e6e;font-weight:400;">104.65</span>
<div style="left:603.00px;top:560.30px;width:197.00px;height:0.60px;background:#f7f7f7;"></div>
<svg style="left:611.85px;top:567.50px" width="3.50" height="5.60" viewBox="0 0 5 8"><polyline points="1,0.8 4,4 1,7.2" fill="none" stroke="#333" stroke-width="1.4"/></svg>
<span style="left:620.10px;top:565.82px;font-size:6.4px;line-height:8.96px;color:#222;font-weight:400;-webkit-text-stroke:.12px #222">2025-05-18</span>
<span style="left:790.30px;transform:translateX(-100%);top:565.96px;font-size:6.2px;line-height:8.68px;color:#6e6e6e;font-weight:400;">65.52</span>
<div style="left:603.00px;top:579.70px;width:197.00px;height:0.60px;background:#f7f7f7;"></div>
<svg style="left:611.85px;top:586.90px" width="3.50" height="5.60" viewBox="0 0 5 8"><polyline points="1,0.8 4,4 1,7.2" fill="none" stroke="#333" stroke-width="1.4"/></svg>
<span style="left:620.10px;top:585.22px;font-size:6.4px;line-height:8.96px;color:#222;font-weight:400;-webkit-text-stroke:.12px #222">2025-05-17</span>
<span style="left:790.30px;transform:translateX(-100%);top:585.36px;font-size:6.2px;line-height:8.68px;color:#6e6e6e;font-weight:400;">124.35</span>
<div style="left:603.00px;top:599.10px;width:197.00px;height:0.60px;background:#f7f7f7;"></div>
<svg style="left:611.85px;top:606.30px" width="3.50" height="5.60" viewBox="0 0 5 8"><polyline points="1,0.8 4,4 1,7.2" fill="none" stroke="#333" stroke-width="1.4"/></svg>
<span style="left:620.10px;top:604.62px;font-size:6.4px;line-height:8.96px;color:#222;font-weight:400;-webkit-text-stroke:.12px #222">2025-05-16</span>
<span style="left:790.30px;transform:translateX(-100%);top:604.76px;font-size:6.2px;line-height:8.68px;color:#6e6e6e;font-weight:400;">82.14</span>
<span style="left:701.40px;transform:translateX(-50%);top:632.23px;font-size:5.2px;line-height:7.28px;color:#d6d6d6;font-weight:400;">—  没有更多了  —</span>
</div>
</body></html>
